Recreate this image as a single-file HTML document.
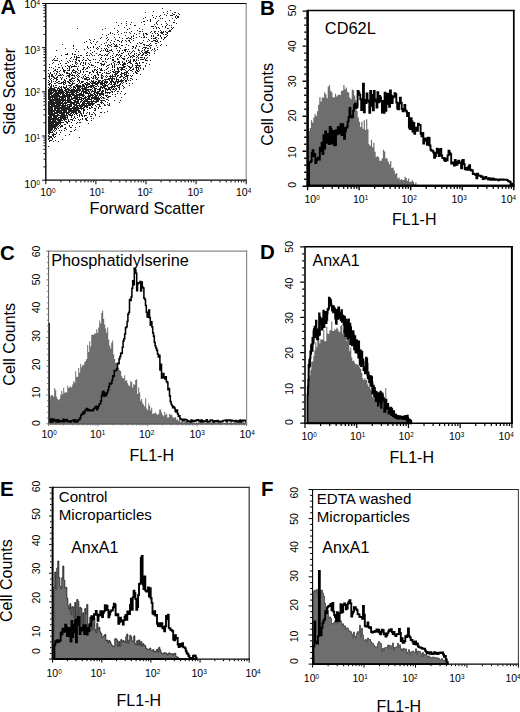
<!DOCTYPE html>
<html><head><meta charset="utf-8"><style>
html,body{margin:0;padding:0;background:#fff;width:520px;height:712px;overflow:hidden}
svg{display:block}
text{font-family:"Liberation Sans", sans-serif;fill:#000}
</style></head><body>
<svg width="520" height="712" viewBox="0 0 520 712">
<rect width="520" height="712" fill="#fff"/>
<path d="M48 70h1v1h-1zM48 73h1v1h-1zM48 76h1v1h-1zM48 80h1v1h-1zM48 82h1v1h-1zM48 84h1v1h-1zM48 87h1v1h-1zM48 89h1v1h-1zM48 90h1v1h-1zM48 91h1v1h-1zM48 92h1v1h-1zM48 93h1v1h-1zM48 94h1v1h-1zM48 95h1v1h-1zM48 96h1v1h-1zM48 97h1v1h-1zM48 98h1v1h-1zM48 99h1v1h-1zM48 101h1v1h-1zM48 102h1v1h-1zM48 103h1v1h-1zM48 104h1v1h-1zM48 105h1v1h-1zM48 106h1v1h-1zM48 107h1v1h-1zM48 108h1v1h-1zM48 109h1v1h-1zM48 110h1v1h-1zM48 111h1v1h-1zM48 112h1v1h-1zM48 113h1v1h-1zM48 114h1v1h-1zM48 116h1v1h-1zM48 117h1v1h-1zM48 118h1v1h-1zM48 119h1v1h-1zM48 120h1v1h-1zM48 121h1v1h-1zM48 122h1v1h-1zM48 123h1v1h-1zM48 124h1v1h-1zM48 125h1v1h-1zM48 126h1v1h-1zM48 127h1v1h-1zM48 128h1v1h-1zM48 129h1v1h-1zM48 130h1v1h-1zM48 131h1v1h-1zM48 132h1v1h-1zM48 133h1v1h-1zM48 135h1v1h-1zM48 136h1v1h-1zM48 138h1v1h-1zM48 139h1v1h-1zM48 146h1v1h-1zM49 64h1v1h-1zM49 67h1v1h-1zM49 74h1v1h-1zM49 75h1v1h-1zM49 76h1v1h-1zM49 77h1v1h-1zM49 78h1v1h-1zM49 81h1v1h-1zM49 83h1v1h-1zM49 84h1v1h-1zM49 85h1v1h-1zM49 88h1v1h-1zM49 89h1v1h-1zM49 90h1v1h-1zM49 91h1v1h-1zM49 92h1v1h-1zM49 93h1v1h-1zM49 94h1v1h-1zM49 95h1v1h-1zM49 96h1v1h-1zM49 97h1v1h-1zM49 98h1v1h-1zM49 99h1v1h-1zM49 100h1v1h-1zM49 101h1v1h-1zM49 102h1v1h-1zM49 103h1v1h-1zM49 104h1v1h-1zM49 105h1v1h-1zM49 106h1v1h-1zM49 107h1v1h-1zM49 108h1v1h-1zM49 109h1v1h-1zM49 110h1v1h-1zM49 111h1v1h-1zM49 112h1v1h-1zM49 113h1v1h-1zM49 114h1v1h-1zM49 115h1v1h-1zM49 116h1v1h-1zM49 117h1v1h-1zM49 118h1v1h-1zM49 119h1v1h-1zM49 120h1v1h-1zM49 121h1v1h-1zM49 122h1v1h-1zM49 123h1v1h-1zM49 124h1v1h-1zM49 125h1v1h-1zM49 126h1v1h-1zM49 127h1v1h-1zM49 128h1v1h-1zM49 129h1v1h-1zM49 130h1v1h-1zM49 131h1v1h-1zM49 132h1v1h-1zM49 133h1v1h-1zM49 134h1v1h-1zM49 136h1v1h-1zM49 137h1v1h-1zM49 138h1v1h-1zM49 140h1v1h-1zM49 141h1v1h-1zM50 72h1v1h-1zM50 73h1v1h-1zM50 79h1v1h-1zM50 83h1v1h-1zM50 86h1v1h-1zM50 87h1v1h-1zM50 88h1v1h-1zM50 89h1v1h-1zM50 90h1v1h-1zM50 91h1v1h-1zM50 92h1v1h-1zM50 93h1v1h-1zM50 94h1v1h-1zM50 96h1v1h-1zM50 97h1v1h-1zM50 98h1v1h-1zM50 99h1v1h-1zM50 100h1v1h-1zM50 101h1v1h-1zM50 102h1v1h-1zM50 103h1v1h-1zM50 104h1v1h-1zM50 106h1v1h-1zM50 107h1v1h-1zM50 108h1v1h-1zM50 109h1v1h-1zM50 110h1v1h-1zM50 111h1v1h-1zM50 112h1v1h-1zM50 113h1v1h-1zM50 114h1v1h-1zM50 115h1v1h-1zM50 116h1v1h-1zM50 117h1v1h-1zM50 118h1v1h-1zM50 119h1v1h-1zM50 120h1v1h-1zM50 121h1v1h-1zM50 122h1v1h-1zM50 123h1v1h-1zM50 124h1v1h-1zM50 125h1v1h-1zM50 126h1v1h-1zM50 127h1v1h-1zM50 128h1v1h-1zM50 129h1v1h-1zM50 130h1v1h-1zM50 131h1v1h-1zM50 132h1v1h-1zM50 136h1v1h-1zM50 137h1v1h-1zM50 140h1v1h-1zM51 67h1v1h-1zM51 74h1v1h-1zM51 75h1v1h-1zM51 76h1v1h-1zM51 78h1v1h-1zM51 80h1v1h-1zM51 81h1v1h-1zM51 82h1v1h-1zM51 84h1v1h-1zM51 85h1v1h-1zM51 86h1v1h-1zM51 87h1v1h-1zM51 88h1v1h-1zM51 89h1v1h-1zM51 90h1v1h-1zM51 91h1v1h-1zM51 92h1v1h-1zM51 93h1v1h-1zM51 94h1v1h-1zM51 95h1v1h-1zM51 96h1v1h-1zM51 97h1v1h-1zM51 99h1v1h-1zM51 100h1v1h-1zM51 101h1v1h-1zM51 102h1v1h-1zM51 103h1v1h-1zM51 104h1v1h-1zM51 105h1v1h-1zM51 106h1v1h-1zM51 107h1v1h-1zM51 108h1v1h-1zM51 109h1v1h-1zM51 110h1v1h-1zM51 111h1v1h-1zM51 112h1v1h-1zM51 113h1v1h-1zM51 114h1v1h-1zM51 115h1v1h-1zM51 116h1v1h-1zM51 117h1v1h-1zM51 118h1v1h-1zM51 119h1v1h-1zM51 121h1v1h-1zM51 122h1v1h-1zM51 123h1v1h-1zM51 124h1v1h-1zM51 125h1v1h-1zM51 126h1v1h-1zM51 127h1v1h-1zM51 128h1v1h-1zM51 129h1v1h-1zM51 130h1v1h-1zM51 132h1v1h-1zM51 136h1v1h-1zM51 137h1v1h-1zM51 140h1v1h-1zM52 60h1v1h-1zM52 63h1v1h-1zM52 74h1v1h-1zM52 75h1v1h-1zM52 76h1v1h-1zM52 88h1v1h-1zM52 89h1v1h-1zM52 90h1v1h-1zM52 92h1v1h-1zM52 93h1v1h-1zM52 95h1v1h-1zM52 96h1v1h-1zM52 97h1v1h-1zM52 98h1v1h-1zM52 99h1v1h-1zM52 100h1v1h-1zM52 101h1v1h-1zM52 102h1v1h-1zM52 103h1v1h-1zM52 104h1v1h-1zM52 105h1v1h-1zM52 106h1v1h-1zM52 107h1v1h-1zM52 108h1v1h-1zM52 109h1v1h-1zM52 110h1v1h-1zM52 111h1v1h-1zM52 112h1v1h-1zM52 113h1v1h-1zM52 114h1v1h-1zM52 115h1v1h-1zM52 118h1v1h-1zM52 119h1v1h-1zM52 120h1v1h-1zM52 121h1v1h-1zM52 122h1v1h-1zM52 123h1v1h-1zM52 124h1v1h-1zM52 125h1v1h-1zM52 126h1v1h-1zM52 127h1v1h-1zM52 128h1v1h-1zM52 129h1v1h-1zM52 131h1v1h-1zM52 132h1v1h-1zM52 134h1v1h-1zM52 135h1v1h-1zM52 138h1v1h-1zM52 139h1v1h-1zM53 59h1v1h-1zM53 62h1v1h-1zM53 68h1v1h-1zM53 71h1v1h-1zM53 76h1v1h-1zM53 77h1v1h-1zM53 79h1v1h-1zM53 81h1v1h-1zM53 85h1v1h-1zM53 86h1v1h-1zM53 88h1v1h-1zM53 89h1v1h-1zM53 90h1v1h-1zM53 91h1v1h-1zM53 92h1v1h-1zM53 94h1v1h-1zM53 95h1v1h-1zM53 96h1v1h-1zM53 97h1v1h-1zM53 99h1v1h-1zM53 100h1v1h-1zM53 101h1v1h-1zM53 102h1v1h-1zM53 103h1v1h-1zM53 104h1v1h-1zM53 105h1v1h-1zM53 106h1v1h-1zM53 110h1v1h-1zM53 111h1v1h-1zM53 113h1v1h-1zM53 114h1v1h-1zM53 115h1v1h-1zM53 116h1v1h-1zM53 117h1v1h-1zM53 118h1v1h-1zM53 119h1v1h-1zM53 120h1v1h-1zM53 121h1v1h-1zM53 122h1v1h-1zM53 123h1v1h-1zM53 124h1v1h-1zM53 125h1v1h-1zM53 126h1v1h-1zM53 127h1v1h-1zM53 130h1v1h-1zM53 133h1v1h-1zM53 134h1v1h-1zM53 135h1v1h-1zM53 136h1v1h-1zM53 141h1v1h-1zM54 58h1v1h-1zM54 60h1v1h-1zM54 70h1v1h-1zM54 73h1v1h-1zM54 77h1v1h-1zM54 78h1v1h-1zM54 83h1v1h-1zM54 87h1v1h-1zM54 88h1v1h-1zM54 89h1v1h-1zM54 90h1v1h-1zM54 91h1v1h-1zM54 93h1v1h-1zM54 94h1v1h-1zM54 95h1v1h-1zM54 96h1v1h-1zM54 97h1v1h-1zM54 98h1v1h-1zM54 99h1v1h-1zM54 100h1v1h-1zM54 102h1v1h-1zM54 103h1v1h-1zM54 104h1v1h-1zM54 105h1v1h-1zM54 106h1v1h-1zM54 107h1v1h-1zM54 108h1v1h-1zM54 109h1v1h-1zM54 110h1v1h-1zM54 111h1v1h-1zM54 112h1v1h-1zM54 113h1v1h-1zM54 114h1v1h-1zM54 115h1v1h-1zM54 116h1v1h-1zM54 117h1v1h-1zM54 118h1v1h-1zM54 119h1v1h-1zM54 120h1v1h-1zM54 121h1v1h-1zM54 122h1v1h-1zM54 124h1v1h-1zM54 125h1v1h-1zM54 126h1v1h-1zM54 127h1v1h-1zM54 128h1v1h-1zM54 129h1v1h-1zM54 131h1v1h-1zM54 134h1v1h-1zM54 137h1v1h-1zM55 56h1v1h-1zM55 60h1v1h-1zM55 66h1v1h-1zM55 69h1v1h-1zM55 70h1v1h-1zM55 75h1v1h-1zM55 78h1v1h-1zM55 81h1v1h-1zM55 83h1v1h-1zM55 85h1v1h-1zM55 87h1v1h-1zM55 89h1v1h-1zM55 90h1v1h-1zM55 91h1v1h-1zM55 92h1v1h-1zM55 93h1v1h-1zM55 94h1v1h-1zM55 95h1v1h-1zM55 96h1v1h-1zM55 97h1v1h-1zM55 98h1v1h-1zM55 99h1v1h-1zM55 100h1v1h-1zM55 101h1v1h-1zM55 102h1v1h-1zM55 103h1v1h-1zM55 105h1v1h-1zM55 106h1v1h-1zM55 107h1v1h-1zM55 108h1v1h-1zM55 109h1v1h-1zM55 110h1v1h-1zM55 112h1v1h-1zM55 113h1v1h-1zM55 115h1v1h-1zM55 116h1v1h-1zM55 117h1v1h-1zM55 118h1v1h-1zM55 119h1v1h-1zM55 120h1v1h-1zM55 121h1v1h-1zM55 122h1v1h-1zM55 123h1v1h-1zM55 124h1v1h-1zM55 125h1v1h-1zM55 126h1v1h-1zM55 127h1v1h-1zM55 128h1v1h-1zM55 130h1v1h-1zM55 134h1v1h-1zM55 136h1v1h-1zM55 140h1v1h-1zM56 50h1v1h-1zM56 60h1v1h-1zM56 71h1v1h-1zM56 73h1v1h-1zM56 74h1v1h-1zM56 77h1v1h-1zM56 78h1v1h-1zM56 79h1v1h-1zM56 80h1v1h-1zM56 82h1v1h-1zM56 85h1v1h-1zM56 87h1v1h-1zM56 90h1v1h-1zM56 91h1v1h-1zM56 92h1v1h-1zM56 93h1v1h-1zM56 94h1v1h-1zM56 95h1v1h-1zM56 96h1v1h-1zM56 97h1v1h-1zM56 98h1v1h-1zM56 99h1v1h-1zM56 100h1v1h-1zM56 101h1v1h-1zM56 102h1v1h-1zM56 103h1v1h-1zM56 104h1v1h-1zM56 105h1v1h-1zM56 106h1v1h-1zM56 107h1v1h-1zM56 108h1v1h-1zM56 110h1v1h-1zM56 111h1v1h-1zM56 112h1v1h-1zM56 113h1v1h-1zM56 115h1v1h-1zM56 116h1v1h-1zM56 117h1v1h-1zM56 118h1v1h-1zM56 119h1v1h-1zM56 121h1v1h-1zM56 122h1v1h-1zM56 123h1v1h-1zM56 124h1v1h-1zM56 125h1v1h-1zM56 126h1v1h-1zM56 128h1v1h-1zM56 129h1v1h-1zM56 132h1v1h-1zM56 133h1v1h-1zM57 58h1v1h-1zM57 60h1v1h-1zM57 69h1v1h-1zM57 71h1v1h-1zM57 72h1v1h-1zM57 76h1v1h-1zM57 77h1v1h-1zM57 79h1v1h-1zM57 82h1v1h-1zM57 88h1v1h-1zM57 89h1v1h-1zM57 90h1v1h-1zM57 92h1v1h-1zM57 93h1v1h-1zM57 94h1v1h-1zM57 95h1v1h-1zM57 96h1v1h-1zM57 97h1v1h-1zM57 98h1v1h-1zM57 99h1v1h-1zM57 100h1v1h-1zM57 101h1v1h-1zM57 102h1v1h-1zM57 103h1v1h-1zM57 104h1v1h-1zM57 105h1v1h-1zM57 106h1v1h-1zM57 107h1v1h-1zM57 108h1v1h-1zM57 109h1v1h-1zM57 110h1v1h-1zM57 111h1v1h-1zM57 112h1v1h-1zM57 113h1v1h-1zM57 114h1v1h-1zM57 115h1v1h-1zM57 116h1v1h-1zM57 118h1v1h-1zM57 119h1v1h-1zM57 120h1v1h-1zM57 122h1v1h-1zM57 123h1v1h-1zM57 124h1v1h-1zM57 125h1v1h-1zM57 127h1v1h-1zM58 64h1v1h-1zM58 67h1v1h-1zM58 75h1v1h-1zM58 81h1v1h-1zM58 83h1v1h-1zM58 87h1v1h-1zM58 88h1v1h-1zM58 90h1v1h-1zM58 91h1v1h-1zM58 92h1v1h-1zM58 93h1v1h-1zM58 94h1v1h-1zM58 95h1v1h-1zM58 96h1v1h-1zM58 98h1v1h-1zM58 99h1v1h-1zM58 100h1v1h-1zM58 101h1v1h-1zM58 102h1v1h-1zM58 103h1v1h-1zM58 104h1v1h-1zM58 105h1v1h-1zM58 106h1v1h-1zM58 107h1v1h-1zM58 108h1v1h-1zM58 109h1v1h-1zM58 110h1v1h-1zM58 111h1v1h-1zM58 112h1v1h-1zM58 114h1v1h-1zM58 115h1v1h-1zM58 117h1v1h-1zM58 118h1v1h-1zM58 119h1v1h-1zM58 120h1v1h-1zM58 121h1v1h-1zM58 122h1v1h-1zM58 123h1v1h-1zM58 124h1v1h-1zM58 126h1v1h-1zM58 128h1v1h-1zM58 141h1v1h-1zM59 61h1v1h-1zM59 67h1v1h-1zM59 71h1v1h-1zM59 73h1v1h-1zM59 75h1v1h-1zM59 81h1v1h-1zM59 83h1v1h-1zM59 86h1v1h-1zM59 88h1v1h-1zM59 89h1v1h-1zM59 90h1v1h-1zM59 91h1v1h-1zM59 92h1v1h-1zM59 93h1v1h-1zM59 95h1v1h-1zM59 96h1v1h-1zM59 97h1v1h-1zM59 98h1v1h-1zM59 99h1v1h-1zM59 100h1v1h-1zM59 101h1v1h-1zM59 102h1v1h-1zM59 103h1v1h-1zM59 104h1v1h-1zM59 105h1v1h-1zM59 106h1v1h-1zM59 107h1v1h-1zM59 108h1v1h-1zM59 109h1v1h-1zM59 110h1v1h-1zM59 111h1v1h-1zM59 112h1v1h-1zM59 113h1v1h-1zM59 115h1v1h-1zM59 117h1v1h-1zM59 119h1v1h-1zM59 120h1v1h-1zM59 121h1v1h-1zM59 122h1v1h-1zM59 123h1v1h-1zM59 125h1v1h-1zM59 130h1v1h-1zM59 134h1v1h-1zM60 63h1v1h-1zM60 70h1v1h-1zM60 74h1v1h-1zM60 75h1v1h-1zM60 77h1v1h-1zM60 83h1v1h-1zM60 87h1v1h-1zM60 89h1v1h-1zM60 90h1v1h-1zM60 91h1v1h-1zM60 92h1v1h-1zM60 93h1v1h-1zM60 94h1v1h-1zM60 96h1v1h-1zM60 97h1v1h-1zM60 99h1v1h-1zM60 100h1v1h-1zM60 101h1v1h-1zM60 102h1v1h-1zM60 103h1v1h-1zM60 104h1v1h-1zM60 105h1v1h-1zM60 107h1v1h-1zM60 108h1v1h-1zM60 110h1v1h-1zM60 111h1v1h-1zM60 112h1v1h-1zM60 113h1v1h-1zM60 115h1v1h-1zM60 116h1v1h-1zM60 117h1v1h-1zM60 118h1v1h-1zM60 119h1v1h-1zM60 120h1v1h-1zM60 121h1v1h-1zM60 122h1v1h-1zM60 123h1v1h-1zM60 124h1v1h-1zM60 126h1v1h-1zM60 127h1v1h-1zM60 132h1v1h-1zM61 55h1v1h-1zM61 60h1v1h-1zM61 65h1v1h-1zM61 75h1v1h-1zM61 78h1v1h-1zM61 79h1v1h-1zM61 82h1v1h-1zM61 83h1v1h-1zM61 86h1v1h-1zM61 87h1v1h-1zM61 88h1v1h-1zM61 89h1v1h-1zM61 90h1v1h-1zM61 91h1v1h-1zM61 92h1v1h-1zM61 93h1v1h-1zM61 96h1v1h-1zM61 97h1v1h-1zM61 98h1v1h-1zM61 99h1v1h-1zM61 100h1v1h-1zM61 102h1v1h-1zM61 103h1v1h-1zM61 105h1v1h-1zM61 106h1v1h-1zM61 107h1v1h-1zM61 108h1v1h-1zM61 109h1v1h-1zM61 110h1v1h-1zM61 111h1v1h-1zM61 112h1v1h-1zM61 113h1v1h-1zM61 114h1v1h-1zM61 115h1v1h-1zM61 116h1v1h-1zM61 117h1v1h-1zM61 118h1v1h-1zM61 119h1v1h-1zM61 120h1v1h-1zM61 122h1v1h-1zM61 125h1v1h-1zM61 126h1v1h-1zM61 130h1v1h-1zM62 44h1v1h-1zM62 67h1v1h-1zM62 68h1v1h-1zM62 74h1v1h-1zM62 77h1v1h-1zM62 82h1v1h-1zM62 89h1v1h-1zM62 90h1v1h-1zM62 91h1v1h-1zM62 92h1v1h-1zM62 93h1v1h-1zM62 94h1v1h-1zM62 95h1v1h-1zM62 96h1v1h-1zM62 97h1v1h-1zM62 98h1v1h-1zM62 99h1v1h-1zM62 100h1v1h-1zM62 101h1v1h-1zM62 102h1v1h-1zM62 103h1v1h-1zM62 104h1v1h-1zM62 105h1v1h-1zM62 106h1v1h-1zM62 107h1v1h-1zM62 108h1v1h-1zM62 109h1v1h-1zM62 110h1v1h-1zM62 112h1v1h-1zM62 113h1v1h-1zM62 114h1v1h-1zM62 115h1v1h-1zM62 116h1v1h-1zM62 117h1v1h-1zM62 118h1v1h-1zM62 120h1v1h-1zM62 122h1v1h-1zM62 125h1v1h-1zM62 126h1v1h-1zM62 139h1v1h-1zM63 69h1v1h-1zM63 70h1v1h-1zM63 71h1v1h-1zM63 75h1v1h-1zM63 81h1v1h-1zM63 82h1v1h-1zM63 83h1v1h-1zM63 84h1v1h-1zM63 86h1v1h-1zM63 87h1v1h-1zM63 91h1v1h-1zM63 92h1v1h-1zM63 93h1v1h-1zM63 94h1v1h-1zM63 95h1v1h-1zM63 96h1v1h-1zM63 97h1v1h-1zM63 98h1v1h-1zM63 99h1v1h-1zM63 100h1v1h-1zM63 101h1v1h-1zM63 103h1v1h-1zM63 104h1v1h-1zM63 105h1v1h-1zM63 106h1v1h-1zM63 107h1v1h-1zM63 108h1v1h-1zM63 109h1v1h-1zM63 110h1v1h-1zM63 111h1v1h-1zM63 112h1v1h-1zM63 113h1v1h-1zM63 114h1v1h-1zM63 115h1v1h-1zM63 116h1v1h-1zM63 117h1v1h-1zM63 118h1v1h-1zM63 119h1v1h-1zM63 122h1v1h-1zM64 70h1v1h-1zM64 71h1v1h-1zM64 72h1v1h-1zM64 79h1v1h-1zM64 80h1v1h-1zM64 82h1v1h-1zM64 84h1v1h-1zM64 87h1v1h-1zM64 88h1v1h-1zM64 90h1v1h-1zM64 92h1v1h-1zM64 94h1v1h-1zM64 95h1v1h-1zM64 96h1v1h-1zM64 97h1v1h-1zM64 99h1v1h-1zM64 100h1v1h-1zM64 102h1v1h-1zM64 103h1v1h-1zM64 105h1v1h-1zM64 106h1v1h-1zM64 107h1v1h-1zM64 108h1v1h-1zM64 109h1v1h-1zM64 110h1v1h-1zM64 111h1v1h-1zM64 112h1v1h-1zM64 113h1v1h-1zM64 114h1v1h-1zM64 115h1v1h-1zM64 116h1v1h-1zM64 117h1v1h-1zM64 118h1v1h-1zM64 119h1v1h-1zM64 120h1v1h-1zM64 124h1v1h-1zM64 128h1v1h-1zM64 130h1v1h-1zM65 48h1v1h-1zM65 54h1v1h-1zM65 63h1v1h-1zM65 66h1v1h-1zM65 70h1v1h-1zM65 80h1v1h-1zM65 81h1v1h-1zM65 82h1v1h-1zM65 83h1v1h-1zM65 87h1v1h-1zM65 88h1v1h-1zM65 89h1v1h-1zM65 90h1v1h-1zM65 91h1v1h-1zM65 93h1v1h-1zM65 95h1v1h-1zM65 96h1v1h-1zM65 97h1v1h-1zM65 98h1v1h-1zM65 99h1v1h-1zM65 100h1v1h-1zM65 101h1v1h-1zM65 102h1v1h-1zM65 103h1v1h-1zM65 104h1v1h-1zM65 105h1v1h-1zM65 106h1v1h-1zM65 107h1v1h-1zM65 108h1v1h-1zM65 109h1v1h-1zM65 110h1v1h-1zM65 111h1v1h-1zM65 112h1v1h-1zM65 115h1v1h-1zM65 116h1v1h-1zM65 117h1v1h-1zM65 118h1v1h-1zM65 119h1v1h-1zM65 121h1v1h-1zM65 124h1v1h-1zM65 127h1v1h-1zM65 128h1v1h-1zM65 135h1v1h-1zM66 54h1v1h-1zM66 58h1v1h-1zM66 63h1v1h-1zM66 72h1v1h-1zM66 73h1v1h-1zM66 76h1v1h-1zM66 78h1v1h-1zM66 85h1v1h-1zM66 86h1v1h-1zM66 87h1v1h-1zM66 89h1v1h-1zM66 90h1v1h-1zM66 91h1v1h-1zM66 92h1v1h-1zM66 93h1v1h-1zM66 94h1v1h-1zM66 95h1v1h-1zM66 96h1v1h-1zM66 100h1v1h-1zM66 102h1v1h-1zM66 103h1v1h-1zM66 105h1v1h-1zM66 107h1v1h-1zM66 108h1v1h-1zM66 109h1v1h-1zM66 110h1v1h-1zM66 111h1v1h-1zM66 112h1v1h-1zM66 113h1v1h-1zM66 114h1v1h-1zM66 115h1v1h-1zM66 117h1v1h-1zM66 119h1v1h-1zM66 121h1v1h-1zM66 122h1v1h-1zM66 129h1v1h-1zM67 53h1v1h-1zM67 54h1v1h-1zM67 61h1v1h-1zM67 65h1v1h-1zM67 68h1v1h-1zM67 70h1v1h-1zM67 72h1v1h-1zM67 73h1v1h-1zM67 75h1v1h-1zM67 81h1v1h-1zM67 88h1v1h-1zM67 89h1v1h-1zM67 91h1v1h-1zM67 92h1v1h-1zM67 93h1v1h-1zM67 94h1v1h-1zM67 95h1v1h-1zM67 96h1v1h-1zM67 97h1v1h-1zM67 98h1v1h-1zM67 99h1v1h-1zM67 100h1v1h-1zM67 101h1v1h-1zM67 102h1v1h-1zM67 104h1v1h-1zM67 105h1v1h-1zM67 106h1v1h-1zM67 107h1v1h-1zM67 108h1v1h-1zM67 109h1v1h-1zM67 112h1v1h-1zM67 113h1v1h-1zM67 115h1v1h-1zM67 116h1v1h-1zM67 117h1v1h-1zM67 118h1v1h-1zM67 122h1v1h-1zM67 123h1v1h-1zM68 62h1v1h-1zM68 66h1v1h-1zM68 70h1v1h-1zM68 73h1v1h-1zM68 75h1v1h-1zM68 76h1v1h-1zM68 81h1v1h-1zM68 82h1v1h-1zM68 85h1v1h-1zM68 88h1v1h-1zM68 89h1v1h-1zM68 90h1v1h-1zM68 91h1v1h-1zM68 92h1v1h-1zM68 94h1v1h-1zM68 95h1v1h-1zM68 96h1v1h-1zM68 97h1v1h-1zM68 98h1v1h-1zM68 99h1v1h-1zM68 100h1v1h-1zM68 101h1v1h-1zM68 102h1v1h-1zM68 104h1v1h-1zM68 106h1v1h-1zM68 107h1v1h-1zM68 108h1v1h-1zM68 109h1v1h-1zM68 110h1v1h-1zM68 111h1v1h-1zM68 112h1v1h-1zM68 113h1v1h-1zM68 114h1v1h-1zM68 119h1v1h-1zM68 120h1v1h-1zM68 121h1v1h-1zM69 60h1v1h-1zM69 66h1v1h-1zM69 67h1v1h-1zM69 68h1v1h-1zM69 69h1v1h-1zM69 70h1v1h-1zM69 73h1v1h-1zM69 74h1v1h-1zM69 75h1v1h-1zM69 76h1v1h-1zM69 77h1v1h-1zM69 79h1v1h-1zM69 80h1v1h-1zM69 82h1v1h-1zM69 83h1v1h-1zM69 85h1v1h-1zM69 87h1v1h-1zM69 89h1v1h-1zM69 90h1v1h-1zM69 92h1v1h-1zM69 93h1v1h-1zM69 94h1v1h-1zM69 95h1v1h-1zM69 96h1v1h-1zM69 97h1v1h-1zM69 98h1v1h-1zM69 99h1v1h-1zM69 100h1v1h-1zM69 101h1v1h-1zM69 102h1v1h-1zM69 104h1v1h-1zM69 105h1v1h-1zM69 106h1v1h-1zM69 107h1v1h-1zM69 108h1v1h-1zM69 109h1v1h-1zM69 110h1v1h-1zM69 111h1v1h-1zM69 112h1v1h-1zM69 114h1v1h-1zM69 115h1v1h-1zM69 121h1v1h-1zM69 125h1v1h-1zM69 126h1v1h-1zM69 134h1v1h-1zM70 58h1v1h-1zM70 61h1v1h-1zM70 65h1v1h-1zM70 74h1v1h-1zM70 79h1v1h-1zM70 80h1v1h-1zM70 81h1v1h-1zM70 83h1v1h-1zM70 85h1v1h-1zM70 86h1v1h-1zM70 88h1v1h-1zM70 90h1v1h-1zM70 91h1v1h-1zM70 92h1v1h-1zM70 94h1v1h-1zM70 95h1v1h-1zM70 96h1v1h-1zM70 99h1v1h-1zM70 100h1v1h-1zM70 101h1v1h-1zM70 102h1v1h-1zM70 103h1v1h-1zM70 104h1v1h-1zM70 105h1v1h-1zM70 106h1v1h-1zM70 108h1v1h-1zM70 109h1v1h-1zM70 110h1v1h-1zM70 111h1v1h-1zM70 113h1v1h-1zM70 114h1v1h-1zM70 115h1v1h-1zM70 119h1v1h-1zM70 127h1v1h-1zM70 131h1v1h-1zM71 57h1v1h-1zM71 66h1v1h-1zM71 67h1v1h-1zM71 72h1v1h-1zM71 73h1v1h-1zM71 75h1v1h-1zM71 78h1v1h-1zM71 79h1v1h-1zM71 81h1v1h-1zM71 84h1v1h-1zM71 85h1v1h-1zM71 87h1v1h-1zM71 89h1v1h-1zM71 90h1v1h-1zM71 91h1v1h-1zM71 92h1v1h-1zM71 93h1v1h-1zM71 94h1v1h-1zM71 96h1v1h-1zM71 97h1v1h-1zM71 98h1v1h-1zM71 99h1v1h-1zM71 101h1v1h-1zM71 102h1v1h-1zM71 103h1v1h-1zM71 104h1v1h-1zM71 105h1v1h-1zM71 106h1v1h-1zM71 108h1v1h-1zM71 109h1v1h-1zM71 110h1v1h-1zM71 111h1v1h-1zM71 112h1v1h-1zM71 113h1v1h-1zM71 115h1v1h-1zM71 116h1v1h-1zM71 117h1v1h-1zM71 119h1v1h-1zM71 122h1v1h-1zM71 127h1v1h-1zM71 131h1v1h-1zM72 53h1v1h-1zM72 54h1v1h-1zM72 61h1v1h-1zM72 64h1v1h-1zM72 66h1v1h-1zM72 70h1v1h-1zM72 71h1v1h-1zM72 74h1v1h-1zM72 75h1v1h-1zM72 77h1v1h-1zM72 78h1v1h-1zM72 80h1v1h-1zM72 82h1v1h-1zM72 83h1v1h-1zM72 84h1v1h-1zM72 89h1v1h-1zM72 90h1v1h-1zM72 91h1v1h-1zM72 92h1v1h-1zM72 93h1v1h-1zM72 94h1v1h-1zM72 95h1v1h-1zM72 98h1v1h-1zM72 99h1v1h-1zM72 102h1v1h-1zM72 103h1v1h-1zM72 107h1v1h-1zM72 108h1v1h-1zM72 110h1v1h-1zM72 111h1v1h-1zM72 112h1v1h-1zM72 114h1v1h-1zM72 115h1v1h-1zM72 119h1v1h-1zM72 120h1v1h-1zM72 125h1v1h-1zM73 45h1v1h-1zM73 46h1v1h-1zM73 48h1v1h-1zM73 59h1v1h-1zM73 66h1v1h-1zM73 69h1v1h-1zM73 70h1v1h-1zM73 72h1v1h-1zM73 75h1v1h-1zM73 78h1v1h-1zM73 81h1v1h-1zM73 83h1v1h-1zM73 86h1v1h-1zM73 87h1v1h-1zM73 88h1v1h-1zM73 89h1v1h-1zM73 90h1v1h-1zM73 91h1v1h-1zM73 92h1v1h-1zM73 93h1v1h-1zM73 94h1v1h-1zM73 95h1v1h-1zM73 97h1v1h-1zM73 98h1v1h-1zM73 100h1v1h-1zM73 102h1v1h-1zM73 103h1v1h-1zM73 104h1v1h-1zM73 106h1v1h-1zM73 107h1v1h-1zM73 108h1v1h-1zM73 109h1v1h-1zM73 110h1v1h-1zM73 111h1v1h-1zM73 112h1v1h-1zM73 113h1v1h-1zM73 118h1v1h-1zM74 54h1v1h-1zM74 56h1v1h-1zM74 57h1v1h-1zM74 65h1v1h-1zM74 66h1v1h-1zM74 70h1v1h-1zM74 72h1v1h-1zM74 75h1v1h-1zM74 76h1v1h-1zM74 78h1v1h-1zM74 80h1v1h-1zM74 83h1v1h-1zM74 86h1v1h-1zM74 87h1v1h-1zM74 89h1v1h-1zM74 90h1v1h-1zM74 91h1v1h-1zM74 92h1v1h-1zM74 94h1v1h-1zM74 95h1v1h-1zM74 96h1v1h-1zM74 97h1v1h-1zM74 98h1v1h-1zM74 100h1v1h-1zM74 101h1v1h-1zM74 102h1v1h-1zM74 103h1v1h-1zM74 104h1v1h-1zM74 105h1v1h-1zM74 106h1v1h-1zM74 107h1v1h-1zM74 108h1v1h-1zM74 109h1v1h-1zM74 110h1v1h-1zM74 111h1v1h-1zM74 112h1v1h-1zM74 114h1v1h-1zM74 116h1v1h-1zM74 117h1v1h-1zM74 120h1v1h-1zM74 130h1v1h-1zM75 51h1v1h-1zM75 54h1v1h-1zM75 59h1v1h-1zM75 61h1v1h-1zM75 62h1v1h-1zM75 63h1v1h-1zM75 66h1v1h-1zM75 71h1v1h-1zM75 72h1v1h-1zM75 73h1v1h-1zM75 77h1v1h-1zM75 85h1v1h-1zM75 87h1v1h-1zM75 88h1v1h-1zM75 90h1v1h-1zM75 91h1v1h-1zM75 93h1v1h-1zM75 95h1v1h-1zM75 96h1v1h-1zM75 97h1v1h-1zM75 98h1v1h-1zM75 99h1v1h-1zM75 100h1v1h-1zM75 101h1v1h-1zM75 102h1v1h-1zM75 104h1v1h-1zM75 105h1v1h-1zM75 107h1v1h-1zM75 108h1v1h-1zM75 109h1v1h-1zM75 110h1v1h-1zM75 111h1v1h-1zM75 112h1v1h-1zM75 113h1v1h-1zM75 118h1v1h-1zM75 127h1v1h-1zM75 129h1v1h-1zM76 49h1v1h-1zM76 56h1v1h-1zM76 57h1v1h-1zM76 58h1v1h-1zM76 59h1v1h-1zM76 60h1v1h-1zM76 62h1v1h-1zM76 64h1v1h-1zM76 66h1v1h-1zM76 71h1v1h-1zM76 75h1v1h-1zM76 84h1v1h-1zM76 85h1v1h-1zM76 86h1v1h-1zM76 89h1v1h-1zM76 90h1v1h-1zM76 91h1v1h-1zM76 92h1v1h-1zM76 93h1v1h-1zM76 94h1v1h-1zM76 95h1v1h-1zM76 96h1v1h-1zM76 97h1v1h-1zM76 98h1v1h-1zM76 99h1v1h-1zM76 101h1v1h-1zM76 102h1v1h-1zM76 103h1v1h-1zM76 104h1v1h-1zM76 105h1v1h-1zM76 106h1v1h-1zM76 107h1v1h-1zM76 108h1v1h-1zM76 109h1v1h-1zM76 110h1v1h-1zM76 111h1v1h-1zM76 112h1v1h-1zM76 113h1v1h-1zM76 114h1v1h-1zM76 123h1v1h-1zM77 28h1v1h-1zM77 57h1v1h-1zM77 63h1v1h-1zM77 68h1v1h-1zM77 69h1v1h-1zM77 72h1v1h-1zM77 74h1v1h-1zM77 76h1v1h-1zM77 78h1v1h-1zM77 79h1v1h-1zM77 81h1v1h-1zM77 84h1v1h-1zM77 85h1v1h-1zM77 86h1v1h-1zM77 87h1v1h-1zM77 88h1v1h-1zM77 89h1v1h-1zM77 90h1v1h-1zM77 91h1v1h-1zM77 92h1v1h-1zM77 94h1v1h-1zM77 95h1v1h-1zM77 96h1v1h-1zM77 97h1v1h-1zM77 98h1v1h-1zM77 99h1v1h-1zM77 100h1v1h-1zM77 101h1v1h-1zM77 102h1v1h-1zM77 103h1v1h-1zM77 105h1v1h-1zM77 106h1v1h-1zM77 107h1v1h-1zM77 108h1v1h-1zM77 109h1v1h-1zM77 110h1v1h-1zM77 113h1v1h-1zM77 115h1v1h-1zM77 117h1v1h-1zM77 122h1v1h-1zM78 51h1v1h-1zM78 55h1v1h-1zM78 57h1v1h-1zM78 60h1v1h-1zM78 66h1v1h-1zM78 70h1v1h-1zM78 73h1v1h-1zM78 75h1v1h-1zM78 77h1v1h-1zM78 79h1v1h-1zM78 80h1v1h-1zM78 83h1v1h-1zM78 85h1v1h-1zM78 86h1v1h-1zM78 87h1v1h-1zM78 88h1v1h-1zM78 89h1v1h-1zM78 90h1v1h-1zM78 92h1v1h-1zM78 94h1v1h-1zM78 95h1v1h-1zM78 97h1v1h-1zM78 99h1v1h-1zM78 100h1v1h-1zM78 101h1v1h-1zM78 102h1v1h-1zM78 103h1v1h-1zM78 105h1v1h-1zM78 107h1v1h-1zM78 108h1v1h-1zM78 109h1v1h-1zM78 110h1v1h-1zM78 111h1v1h-1zM78 112h1v1h-1zM78 119h1v1h-1zM79 57h1v1h-1zM79 60h1v1h-1zM79 61h1v1h-1zM79 73h1v1h-1zM79 76h1v1h-1zM79 80h1v1h-1zM79 81h1v1h-1zM79 82h1v1h-1zM79 85h1v1h-1zM79 86h1v1h-1zM79 87h1v1h-1zM79 88h1v1h-1zM79 89h1v1h-1zM79 90h1v1h-1zM79 91h1v1h-1zM79 93h1v1h-1zM79 94h1v1h-1zM79 95h1v1h-1zM79 96h1v1h-1zM79 97h1v1h-1zM79 98h1v1h-1zM79 99h1v1h-1zM79 103h1v1h-1zM79 104h1v1h-1zM79 105h1v1h-1zM79 106h1v1h-1zM79 108h1v1h-1zM79 110h1v1h-1zM79 111h1v1h-1zM79 112h1v1h-1zM79 114h1v1h-1zM79 115h1v1h-1zM79 116h1v1h-1zM79 120h1v1h-1zM79 122h1v1h-1zM79 126h1v1h-1zM79 137h1v1h-1zM80 55h1v1h-1zM80 63h1v1h-1zM80 64h1v1h-1zM80 70h1v1h-1zM80 71h1v1h-1zM80 72h1v1h-1zM80 83h1v1h-1zM80 85h1v1h-1zM80 86h1v1h-1zM80 87h1v1h-1zM80 89h1v1h-1zM80 90h1v1h-1zM80 93h1v1h-1zM80 94h1v1h-1zM80 95h1v1h-1zM80 97h1v1h-1zM80 99h1v1h-1zM80 101h1v1h-1zM80 102h1v1h-1zM80 105h1v1h-1zM80 106h1v1h-1zM80 107h1v1h-1zM80 108h1v1h-1zM80 111h1v1h-1zM80 112h1v1h-1zM80 113h1v1h-1zM80 119h1v1h-1zM80 122h1v1h-1zM81 55h1v1h-1zM81 62h1v1h-1zM81 77h1v1h-1zM81 81h1v1h-1zM81 82h1v1h-1zM81 86h1v1h-1zM81 88h1v1h-1zM81 91h1v1h-1zM81 92h1v1h-1zM81 93h1v1h-1zM81 94h1v1h-1zM81 95h1v1h-1zM81 97h1v1h-1zM81 98h1v1h-1zM81 99h1v1h-1zM81 100h1v1h-1zM81 101h1v1h-1zM81 104h1v1h-1zM81 105h1v1h-1zM81 106h1v1h-1zM81 107h1v1h-1zM81 108h1v1h-1zM81 109h1v1h-1zM81 113h1v1h-1zM81 114h1v1h-1zM81 115h1v1h-1zM82 60h1v1h-1zM82 65h1v1h-1zM82 69h1v1h-1zM82 74h1v1h-1zM82 78h1v1h-1zM82 81h1v1h-1zM82 82h1v1h-1zM82 84h1v1h-1zM82 85h1v1h-1zM82 86h1v1h-1zM82 87h1v1h-1zM82 88h1v1h-1zM82 89h1v1h-1zM82 90h1v1h-1zM82 91h1v1h-1zM82 94h1v1h-1zM82 95h1v1h-1zM82 96h1v1h-1zM82 98h1v1h-1zM82 100h1v1h-1zM82 102h1v1h-1zM82 103h1v1h-1zM82 104h1v1h-1zM82 105h1v1h-1zM82 106h1v1h-1zM82 108h1v1h-1zM82 115h1v1h-1zM82 116h1v1h-1zM82 118h1v1h-1zM82 119h1v1h-1zM83 57h1v1h-1zM83 59h1v1h-1zM83 62h1v1h-1zM83 63h1v1h-1zM83 65h1v1h-1zM83 67h1v1h-1zM83 68h1v1h-1zM83 69h1v1h-1zM83 71h1v1h-1zM83 72h1v1h-1zM83 76h1v1h-1zM83 77h1v1h-1zM83 81h1v1h-1zM83 84h1v1h-1zM83 85h1v1h-1zM83 86h1v1h-1zM83 88h1v1h-1zM83 89h1v1h-1zM83 90h1v1h-1zM83 91h1v1h-1zM83 92h1v1h-1zM83 93h1v1h-1zM83 94h1v1h-1zM83 95h1v1h-1zM83 96h1v1h-1zM83 98h1v1h-1zM83 99h1v1h-1zM83 101h1v1h-1zM83 102h1v1h-1zM83 103h1v1h-1zM83 104h1v1h-1zM83 105h1v1h-1zM83 107h1v1h-1zM83 108h1v1h-1zM83 109h1v1h-1zM83 110h1v1h-1zM83 111h1v1h-1zM83 112h1v1h-1zM83 113h1v1h-1zM84 42h1v1h-1zM84 49h1v1h-1zM84 67h1v1h-1zM84 75h1v1h-1zM84 78h1v1h-1zM84 79h1v1h-1zM84 83h1v1h-1zM84 85h1v1h-1zM84 86h1v1h-1zM84 87h1v1h-1zM84 88h1v1h-1zM84 89h1v1h-1zM84 91h1v1h-1zM84 92h1v1h-1zM84 95h1v1h-1zM84 97h1v1h-1zM84 98h1v1h-1zM84 100h1v1h-1zM84 101h1v1h-1zM84 102h1v1h-1zM84 103h1v1h-1zM84 104h1v1h-1zM84 105h1v1h-1zM84 106h1v1h-1zM84 107h1v1h-1zM84 109h1v1h-1zM84 110h1v1h-1zM84 115h1v1h-1zM84 116h1v1h-1zM85 60h1v1h-1zM85 62h1v1h-1zM85 63h1v1h-1zM85 64h1v1h-1zM85 69h1v1h-1zM85 74h1v1h-1zM85 76h1v1h-1zM85 78h1v1h-1zM85 79h1v1h-1zM85 83h1v1h-1zM85 84h1v1h-1zM85 87h1v1h-1zM85 88h1v1h-1zM85 89h1v1h-1zM85 90h1v1h-1zM85 91h1v1h-1zM85 92h1v1h-1zM85 93h1v1h-1zM85 96h1v1h-1zM85 97h1v1h-1zM85 98h1v1h-1zM85 99h1v1h-1zM85 100h1v1h-1zM85 101h1v1h-1zM85 103h1v1h-1zM85 105h1v1h-1zM85 106h1v1h-1zM85 115h1v1h-1zM85 118h1v1h-1zM85 119h1v1h-1zM86 41h1v1h-1zM86 53h1v1h-1zM86 55h1v1h-1zM86 60h1v1h-1zM86 68h1v1h-1zM86 71h1v1h-1zM86 77h1v1h-1zM86 78h1v1h-1zM86 79h1v1h-1zM86 82h1v1h-1zM86 84h1v1h-1zM86 85h1v1h-1zM86 86h1v1h-1zM86 87h1v1h-1zM86 88h1v1h-1zM86 89h1v1h-1zM86 90h1v1h-1zM86 91h1v1h-1zM86 92h1v1h-1zM86 93h1v1h-1zM86 97h1v1h-1zM86 99h1v1h-1zM86 100h1v1h-1zM86 101h1v1h-1zM86 103h1v1h-1zM86 104h1v1h-1zM86 105h1v1h-1zM86 106h1v1h-1zM86 107h1v1h-1zM86 113h1v1h-1zM86 115h1v1h-1zM86 118h1v1h-1zM86 119h1v1h-1zM86 120h1v1h-1zM87 46h1v1h-1zM87 47h1v1h-1zM87 52h1v1h-1zM87 55h1v1h-1zM87 58h1v1h-1zM87 67h1v1h-1zM87 68h1v1h-1zM87 71h1v1h-1zM87 77h1v1h-1zM87 79h1v1h-1zM87 80h1v1h-1zM87 82h1v1h-1zM87 83h1v1h-1zM87 84h1v1h-1zM87 85h1v1h-1zM87 87h1v1h-1zM87 89h1v1h-1zM87 90h1v1h-1zM87 92h1v1h-1zM87 93h1v1h-1zM87 96h1v1h-1zM87 98h1v1h-1zM87 99h1v1h-1zM87 100h1v1h-1zM87 101h1v1h-1zM87 102h1v1h-1zM87 103h1v1h-1zM87 105h1v1h-1zM87 106h1v1h-1zM87 107h1v1h-1zM87 109h1v1h-1zM87 112h1v1h-1zM87 117h1v1h-1zM87 120h1v1h-1zM88 48h1v1h-1zM88 59h1v1h-1zM88 63h1v1h-1zM88 66h1v1h-1zM88 75h1v1h-1zM88 77h1v1h-1zM88 79h1v1h-1zM88 83h1v1h-1zM88 84h1v1h-1zM88 86h1v1h-1zM88 87h1v1h-1zM88 89h1v1h-1zM88 90h1v1h-1zM88 91h1v1h-1zM88 93h1v1h-1zM88 94h1v1h-1zM88 95h1v1h-1zM88 96h1v1h-1zM88 97h1v1h-1zM88 98h1v1h-1zM88 99h1v1h-1zM88 101h1v1h-1zM88 102h1v1h-1zM88 103h1v1h-1zM88 104h1v1h-1zM88 105h1v1h-1zM88 123h1v1h-1zM89 39h1v1h-1zM89 55h1v1h-1zM89 60h1v1h-1zM89 64h1v1h-1zM89 67h1v1h-1zM89 72h1v1h-1zM89 73h1v1h-1zM89 78h1v1h-1zM89 79h1v1h-1zM89 81h1v1h-1zM89 83h1v1h-1zM89 84h1v1h-1zM89 86h1v1h-1zM89 89h1v1h-1zM89 91h1v1h-1zM89 92h1v1h-1zM89 93h1v1h-1zM89 95h1v1h-1zM89 96h1v1h-1zM89 97h1v1h-1zM89 98h1v1h-1zM89 99h1v1h-1zM89 101h1v1h-1zM89 102h1v1h-1zM89 103h1v1h-1zM89 104h1v1h-1zM89 105h1v1h-1zM89 107h1v1h-1zM89 108h1v1h-1zM89 112h1v1h-1zM89 113h1v1h-1zM89 114h1v1h-1zM90 40h1v1h-1zM90 42h1v1h-1zM90 47h1v1h-1zM90 50h1v1h-1zM90 53h1v1h-1zM90 60h1v1h-1zM90 62h1v1h-1zM90 72h1v1h-1zM90 82h1v1h-1zM90 85h1v1h-1zM90 86h1v1h-1zM90 87h1v1h-1zM90 89h1v1h-1zM90 90h1v1h-1zM90 93h1v1h-1zM90 94h1v1h-1zM90 95h1v1h-1zM90 96h1v1h-1zM90 99h1v1h-1zM90 101h1v1h-1zM90 103h1v1h-1zM90 104h1v1h-1zM90 105h1v1h-1zM90 108h1v1h-1zM90 116h1v1h-1zM91 43h1v1h-1zM91 54h1v1h-1zM91 64h1v1h-1zM91 65h1v1h-1zM91 74h1v1h-1zM91 77h1v1h-1zM91 80h1v1h-1zM91 81h1v1h-1zM91 83h1v1h-1zM91 85h1v1h-1zM91 86h1v1h-1zM91 87h1v1h-1zM91 89h1v1h-1zM91 91h1v1h-1zM91 92h1v1h-1zM91 94h1v1h-1zM91 95h1v1h-1zM91 97h1v1h-1zM91 98h1v1h-1zM91 99h1v1h-1zM91 100h1v1h-1zM91 101h1v1h-1zM91 102h1v1h-1zM91 103h1v1h-1zM91 104h1v1h-1zM91 106h1v1h-1zM91 107h1v1h-1zM91 114h1v1h-1zM91 116h1v1h-1zM91 118h1v1h-1zM91 120h1v1h-1zM92 52h1v1h-1zM92 55h1v1h-1zM92 65h1v1h-1zM92 70h1v1h-1zM92 71h1v1h-1zM92 78h1v1h-1zM92 81h1v1h-1zM92 82h1v1h-1zM92 83h1v1h-1zM92 84h1v1h-1zM92 85h1v1h-1zM92 86h1v1h-1zM92 88h1v1h-1zM92 90h1v1h-1zM92 91h1v1h-1zM92 94h1v1h-1zM92 95h1v1h-1zM92 96h1v1h-1zM92 97h1v1h-1zM92 98h1v1h-1zM92 101h1v1h-1zM92 102h1v1h-1zM92 103h1v1h-1zM92 104h1v1h-1zM92 105h1v1h-1zM92 107h1v1h-1zM92 114h1v1h-1zM93 41h1v1h-1zM93 46h1v1h-1zM93 47h1v1h-1zM93 59h1v1h-1zM93 65h1v1h-1zM93 71h1v1h-1zM93 72h1v1h-1zM93 76h1v1h-1zM93 77h1v1h-1zM93 78h1v1h-1zM93 80h1v1h-1zM93 81h1v1h-1zM93 82h1v1h-1zM93 83h1v1h-1zM93 85h1v1h-1zM93 86h1v1h-1zM93 87h1v1h-1zM93 91h1v1h-1zM93 93h1v1h-1zM93 95h1v1h-1zM93 97h1v1h-1zM93 98h1v1h-1zM93 100h1v1h-1zM93 101h1v1h-1zM93 103h1v1h-1zM93 104h1v1h-1zM93 112h1v1h-1zM93 118h1v1h-1zM94 39h1v1h-1zM94 51h1v1h-1zM94 55h1v1h-1zM94 67h1v1h-1zM94 69h1v1h-1zM94 70h1v1h-1zM94 75h1v1h-1zM94 82h1v1h-1zM94 83h1v1h-1zM94 85h1v1h-1zM94 87h1v1h-1zM94 88h1v1h-1zM94 89h1v1h-1zM94 90h1v1h-1zM94 91h1v1h-1zM94 92h1v1h-1zM94 93h1v1h-1zM94 94h1v1h-1zM94 96h1v1h-1zM94 97h1v1h-1zM94 98h1v1h-1zM94 99h1v1h-1zM94 101h1v1h-1zM94 103h1v1h-1zM94 108h1v1h-1zM94 110h1v1h-1zM94 113h1v1h-1zM95 44h1v1h-1zM95 59h1v1h-1zM95 62h1v1h-1zM95 66h1v1h-1zM95 69h1v1h-1zM95 75h1v1h-1zM95 76h1v1h-1zM95 77h1v1h-1zM95 78h1v1h-1zM95 81h1v1h-1zM95 82h1v1h-1zM95 83h1v1h-1zM95 84h1v1h-1zM95 86h1v1h-1zM95 88h1v1h-1zM95 89h1v1h-1zM95 90h1v1h-1zM95 91h1v1h-1zM95 92h1v1h-1zM95 94h1v1h-1zM95 95h1v1h-1zM95 96h1v1h-1zM95 97h1v1h-1zM95 98h1v1h-1zM95 99h1v1h-1zM95 101h1v1h-1zM95 102h1v1h-1zM95 105h1v1h-1zM95 108h1v1h-1zM95 109h1v1h-1zM95 110h1v1h-1zM95 114h1v1h-1zM95 115h1v1h-1zM96 42h1v1h-1zM96 48h1v1h-1zM96 53h1v1h-1zM96 70h1v1h-1zM96 72h1v1h-1zM96 77h1v1h-1zM96 79h1v1h-1zM96 81h1v1h-1zM96 83h1v1h-1zM96 84h1v1h-1zM96 86h1v1h-1zM96 88h1v1h-1zM96 92h1v1h-1zM96 93h1v1h-1zM96 95h1v1h-1zM96 96h1v1h-1zM96 97h1v1h-1zM96 98h1v1h-1zM96 99h1v1h-1zM96 100h1v1h-1zM96 101h1v1h-1zM96 102h1v1h-1zM96 106h1v1h-1zM97 41h1v1h-1zM97 47h1v1h-1zM97 49h1v1h-1zM97 62h1v1h-1zM97 67h1v1h-1zM97 69h1v1h-1zM97 71h1v1h-1zM97 72h1v1h-1zM97 73h1v1h-1zM97 74h1v1h-1zM97 78h1v1h-1zM97 79h1v1h-1zM97 82h1v1h-1zM97 83h1v1h-1zM97 84h1v1h-1zM97 85h1v1h-1zM97 89h1v1h-1zM97 91h1v1h-1zM97 92h1v1h-1zM97 93h1v1h-1zM97 94h1v1h-1zM97 95h1v1h-1zM97 97h1v1h-1zM97 98h1v1h-1zM97 99h1v1h-1zM97 100h1v1h-1zM97 101h1v1h-1zM97 104h1v1h-1zM98 48h1v1h-1zM98 55h1v1h-1zM98 62h1v1h-1zM98 74h1v1h-1zM98 75h1v1h-1zM98 77h1v1h-1zM98 80h1v1h-1zM98 81h1v1h-1zM98 82h1v1h-1zM98 83h1v1h-1zM98 86h1v1h-1zM98 89h1v1h-1zM98 91h1v1h-1zM98 92h1v1h-1zM98 93h1v1h-1zM98 96h1v1h-1zM98 97h1v1h-1zM98 98h1v1h-1zM98 99h1v1h-1zM98 100h1v1h-1zM98 101h1v1h-1zM98 104h1v1h-1zM98 107h1v1h-1zM98 108h1v1h-1zM99 46h1v1h-1zM99 54h1v1h-1zM99 60h1v1h-1zM99 68h1v1h-1zM99 72h1v1h-1zM99 80h1v1h-1zM99 81h1v1h-1zM99 82h1v1h-1zM99 88h1v1h-1zM99 89h1v1h-1zM99 90h1v1h-1zM99 91h1v1h-1zM99 93h1v1h-1zM99 94h1v1h-1zM99 95h1v1h-1zM99 98h1v1h-1zM99 99h1v1h-1zM99 104h1v1h-1zM99 105h1v1h-1zM99 106h1v1h-1zM99 116h1v1h-1zM100 38h1v1h-1zM100 51h1v1h-1zM100 54h1v1h-1zM100 58h1v1h-1zM100 63h1v1h-1zM100 69h1v1h-1zM100 70h1v1h-1zM100 72h1v1h-1zM100 80h1v1h-1zM100 82h1v1h-1zM100 83h1v1h-1zM100 84h1v1h-1zM100 86h1v1h-1zM100 87h1v1h-1zM100 88h1v1h-1zM100 89h1v1h-1zM100 90h1v1h-1zM100 93h1v1h-1zM100 94h1v1h-1zM100 95h1v1h-1zM100 97h1v1h-1zM100 100h1v1h-1zM100 102h1v1h-1zM100 106h1v1h-1zM100 112h1v1h-1zM101 37h1v1h-1zM101 44h1v1h-1zM101 48h1v1h-1zM101 50h1v1h-1zM101 55h1v1h-1zM101 57h1v1h-1zM101 59h1v1h-1zM101 63h1v1h-1zM101 64h1v1h-1zM101 65h1v1h-1zM101 68h1v1h-1zM101 69h1v1h-1zM101 70h1v1h-1zM101 74h1v1h-1zM101 75h1v1h-1zM101 76h1v1h-1zM101 77h1v1h-1zM101 78h1v1h-1zM101 81h1v1h-1zM101 82h1v1h-1zM101 83h1v1h-1zM101 84h1v1h-1zM101 86h1v1h-1zM101 87h1v1h-1zM101 91h1v1h-1zM101 92h1v1h-1zM101 93h1v1h-1zM101 94h1v1h-1zM101 96h1v1h-1zM101 98h1v1h-1zM101 100h1v1h-1zM101 101h1v1h-1zM101 102h1v1h-1zM101 103h1v1h-1zM101 108h1v1h-1zM101 112h1v1h-1zM102 29h1v1h-1zM102 34h1v1h-1zM102 55h1v1h-1zM102 61h1v1h-1zM102 64h1v1h-1zM102 70h1v1h-1zM102 73h1v1h-1zM102 75h1v1h-1zM102 77h1v1h-1zM102 78h1v1h-1zM102 80h1v1h-1zM102 81h1v1h-1zM102 82h1v1h-1zM102 83h1v1h-1zM102 84h1v1h-1zM102 85h1v1h-1zM102 87h1v1h-1zM102 88h1v1h-1zM102 90h1v1h-1zM102 91h1v1h-1zM102 92h1v1h-1zM102 93h1v1h-1zM102 94h1v1h-1zM102 97h1v1h-1zM102 100h1v1h-1zM102 102h1v1h-1zM103 50h1v1h-1zM103 61h1v1h-1zM103 64h1v1h-1zM103 65h1v1h-1zM103 76h1v1h-1zM103 80h1v1h-1zM103 83h1v1h-1zM103 85h1v1h-1zM103 86h1v1h-1zM103 87h1v1h-1zM103 90h1v1h-1zM103 91h1v1h-1zM103 93h1v1h-1zM103 94h1v1h-1zM103 95h1v1h-1zM103 97h1v1h-1zM103 98h1v1h-1zM103 100h1v1h-1zM103 103h1v1h-1zM104 43h1v1h-1zM104 48h1v1h-1zM104 55h1v1h-1zM104 63h1v1h-1zM104 64h1v1h-1zM104 70h1v1h-1zM104 72h1v1h-1zM104 79h1v1h-1zM104 81h1v1h-1zM104 82h1v1h-1zM104 83h1v1h-1zM104 84h1v1h-1zM104 85h1v1h-1zM104 86h1v1h-1zM104 87h1v1h-1zM104 88h1v1h-1zM104 98h1v1h-1zM104 100h1v1h-1zM104 104h1v1h-1zM104 105h1v1h-1zM104 112h1v1h-1zM105 28h1v1h-1zM105 45h1v1h-1zM105 49h1v1h-1zM105 50h1v1h-1zM105 54h1v1h-1zM105 58h1v1h-1zM105 59h1v1h-1zM105 61h1v1h-1zM105 76h1v1h-1zM105 79h1v1h-1zM105 80h1v1h-1zM105 81h1v1h-1zM105 82h1v1h-1zM105 84h1v1h-1zM105 85h1v1h-1zM105 86h1v1h-1zM105 88h1v1h-1zM105 89h1v1h-1zM105 90h1v1h-1zM105 91h1v1h-1zM105 92h1v1h-1zM105 93h1v1h-1zM105 95h1v1h-1zM105 101h1v1h-1zM105 105h1v1h-1zM106 35h1v1h-1zM106 38h1v1h-1zM106 42h1v1h-1zM106 48h1v1h-1zM106 51h1v1h-1zM106 55h1v1h-1zM106 62h1v1h-1zM106 66h1v1h-1zM106 69h1v1h-1zM106 72h1v1h-1zM106 73h1v1h-1zM106 75h1v1h-1zM106 77h1v1h-1zM106 79h1v1h-1zM106 81h1v1h-1zM106 82h1v1h-1zM106 83h1v1h-1zM106 85h1v1h-1zM106 88h1v1h-1zM106 89h1v1h-1zM106 92h1v1h-1zM106 95h1v1h-1zM106 96h1v1h-1zM106 99h1v1h-1zM107 37h1v1h-1zM107 40h1v1h-1zM107 45h1v1h-1zM107 46h1v1h-1zM107 49h1v1h-1zM107 50h1v1h-1zM107 51h1v1h-1zM107 54h1v1h-1zM107 55h1v1h-1zM107 59h1v1h-1zM107 65h1v1h-1zM107 68h1v1h-1zM107 73h1v1h-1zM107 76h1v1h-1zM107 79h1v1h-1zM107 81h1v1h-1zM107 82h1v1h-1zM107 85h1v1h-1zM107 86h1v1h-1zM107 89h1v1h-1zM107 90h1v1h-1zM107 92h1v1h-1zM107 93h1v1h-1zM107 95h1v1h-1zM107 97h1v1h-1zM107 99h1v1h-1zM107 102h1v1h-1zM107 104h1v1h-1zM107 111h1v1h-1zM108 34h1v1h-1zM108 39h1v1h-1zM108 44h1v1h-1zM108 47h1v1h-1zM108 51h1v1h-1zM108 53h1v1h-1zM108 58h1v1h-1zM108 65h1v1h-1zM108 67h1v1h-1zM108 71h1v1h-1zM108 73h1v1h-1zM108 78h1v1h-1zM108 79h1v1h-1zM108 84h1v1h-1zM108 87h1v1h-1zM108 88h1v1h-1zM108 89h1v1h-1zM108 92h1v1h-1zM108 96h1v1h-1zM108 97h1v1h-1zM108 100h1v1h-1zM108 105h1v1h-1zM109 45h1v1h-1zM109 50h1v1h-1zM109 52h1v1h-1zM109 64h1v1h-1zM109 73h1v1h-1zM109 76h1v1h-1zM109 78h1v1h-1zM109 79h1v1h-1zM109 80h1v1h-1zM109 83h1v1h-1zM109 87h1v1h-1zM109 88h1v1h-1zM109 89h1v1h-1zM109 92h1v1h-1zM109 93h1v1h-1zM109 96h1v1h-1zM109 103h1v1h-1zM109 104h1v1h-1zM109 105h1v1h-1zM110 32h1v1h-1zM110 33h1v1h-1zM110 42h1v1h-1zM110 45h1v1h-1zM110 50h1v1h-1zM110 56h1v1h-1zM110 58h1v1h-1zM110 70h1v1h-1zM110 72h1v1h-1zM110 75h1v1h-1zM110 76h1v1h-1zM110 77h1v1h-1zM110 78h1v1h-1zM110 81h1v1h-1zM110 82h1v1h-1zM110 84h1v1h-1zM110 87h1v1h-1zM110 89h1v1h-1zM110 90h1v1h-1zM110 92h1v1h-1zM110 96h1v1h-1zM111 40h1v1h-1zM111 44h1v1h-1zM111 46h1v1h-1zM111 49h1v1h-1zM111 50h1v1h-1zM111 63h1v1h-1zM111 64h1v1h-1zM111 76h1v1h-1zM111 78h1v1h-1zM111 79h1v1h-1zM111 80h1v1h-1zM111 81h1v1h-1zM111 82h1v1h-1zM111 83h1v1h-1zM111 84h1v1h-1zM111 86h1v1h-1zM111 87h1v1h-1zM111 88h1v1h-1zM111 91h1v1h-1zM112 33h1v1h-1zM112 51h1v1h-1zM112 55h1v1h-1zM112 57h1v1h-1zM112 59h1v1h-1zM112 60h1v1h-1zM112 65h1v1h-1zM112 66h1v1h-1zM112 67h1v1h-1zM112 69h1v1h-1zM112 71h1v1h-1zM112 74h1v1h-1zM112 75h1v1h-1zM112 76h1v1h-1zM112 77h1v1h-1zM112 78h1v1h-1zM112 79h1v1h-1zM112 80h1v1h-1zM112 81h1v1h-1zM112 85h1v1h-1zM112 86h1v1h-1zM112 87h1v1h-1zM112 89h1v1h-1zM112 91h1v1h-1zM112 92h1v1h-1zM112 94h1v1h-1zM113 43h1v1h-1zM113 53h1v1h-1zM113 57h1v1h-1zM113 59h1v1h-1zM113 60h1v1h-1zM113 62h1v1h-1zM113 71h1v1h-1zM113 72h1v1h-1zM113 76h1v1h-1zM113 78h1v1h-1zM113 81h1v1h-1zM113 82h1v1h-1zM113 84h1v1h-1zM113 86h1v1h-1zM113 88h1v1h-1zM113 89h1v1h-1zM114 28h1v1h-1zM114 34h1v1h-1zM114 37h1v1h-1zM114 41h1v1h-1zM114 44h1v1h-1zM114 46h1v1h-1zM114 61h1v1h-1zM114 63h1v1h-1zM114 64h1v1h-1zM114 65h1v1h-1zM114 66h1v1h-1zM114 67h1v1h-1zM114 69h1v1h-1zM114 70h1v1h-1zM114 72h1v1h-1zM114 74h1v1h-1zM114 76h1v1h-1zM114 78h1v1h-1zM114 79h1v1h-1zM114 82h1v1h-1zM114 83h1v1h-1zM114 84h1v1h-1zM114 85h1v1h-1zM114 86h1v1h-1zM114 87h1v1h-1zM114 89h1v1h-1zM114 91h1v1h-1zM114 100h1v1h-1zM115 39h1v1h-1zM115 45h1v1h-1zM115 46h1v1h-1zM115 56h1v1h-1zM115 61h1v1h-1zM115 71h1v1h-1zM115 72h1v1h-1zM115 73h1v1h-1zM115 74h1v1h-1zM115 75h1v1h-1zM115 76h1v1h-1zM115 81h1v1h-1zM115 82h1v1h-1zM115 83h1v1h-1zM115 84h1v1h-1zM115 86h1v1h-1zM115 88h1v1h-1zM115 90h1v1h-1zM115 94h1v1h-1zM115 96h1v1h-1zM116 22h1v1h-1zM116 44h1v1h-1zM116 45h1v1h-1zM116 46h1v1h-1zM116 48h1v1h-1zM116 54h1v1h-1zM116 55h1v1h-1zM116 64h1v1h-1zM116 71h1v1h-1zM116 73h1v1h-1zM116 74h1v1h-1zM116 77h1v1h-1zM116 78h1v1h-1zM116 79h1v1h-1zM116 80h1v1h-1zM116 81h1v1h-1zM116 85h1v1h-1zM116 88h1v1h-1zM116 89h1v1h-1zM117 30h1v1h-1zM117 32h1v1h-1zM117 40h1v1h-1zM117 46h1v1h-1zM117 50h1v1h-1zM117 54h1v1h-1zM117 58h1v1h-1zM117 59h1v1h-1zM117 62h1v1h-1zM117 67h1v1h-1zM117 68h1v1h-1zM117 69h1v1h-1zM117 71h1v1h-1zM117 72h1v1h-1zM117 73h1v1h-1zM117 75h1v1h-1zM117 76h1v1h-1zM117 79h1v1h-1zM117 81h1v1h-1zM117 82h1v1h-1zM117 83h1v1h-1zM117 85h1v1h-1zM117 86h1v1h-1zM117 91h1v1h-1zM117 93h1v1h-1zM118 25h1v1h-1zM118 31h1v1h-1zM118 34h1v1h-1zM118 40h1v1h-1zM118 52h1v1h-1zM118 55h1v1h-1zM118 59h1v1h-1zM118 61h1v1h-1zM118 62h1v1h-1zM118 64h1v1h-1zM118 68h1v1h-1zM118 69h1v1h-1zM118 70h1v1h-1zM118 71h1v1h-1zM118 72h1v1h-1zM118 75h1v1h-1zM118 79h1v1h-1zM118 80h1v1h-1zM118 81h1v1h-1zM118 82h1v1h-1zM118 85h1v1h-1zM118 87h1v1h-1zM118 91h1v1h-1zM119 37h1v1h-1zM119 41h1v1h-1zM119 44h1v1h-1zM119 47h1v1h-1zM119 50h1v1h-1zM119 51h1v1h-1zM119 54h1v1h-1zM119 57h1v1h-1zM119 61h1v1h-1zM119 62h1v1h-1zM119 63h1v1h-1zM119 67h1v1h-1zM119 71h1v1h-1zM119 77h1v1h-1zM119 81h1v1h-1zM119 84h1v1h-1zM119 85h1v1h-1zM119 86h1v1h-1zM119 87h1v1h-1zM119 88h1v1h-1zM119 89h1v1h-1zM119 102h1v1h-1zM120 48h1v1h-1zM120 55h1v1h-1zM120 56h1v1h-1zM120 64h1v1h-1zM120 67h1v1h-1zM120 69h1v1h-1zM120 74h1v1h-1zM120 76h1v1h-1zM120 77h1v1h-1zM120 80h1v1h-1zM120 81h1v1h-1zM120 83h1v1h-1zM120 84h1v1h-1zM120 93h1v1h-1zM120 100h1v1h-1zM121 23h1v1h-1zM121 33h1v1h-1zM121 41h1v1h-1zM121 42h1v1h-1zM121 45h1v1h-1zM121 53h1v1h-1zM121 55h1v1h-1zM121 57h1v1h-1zM121 67h1v1h-1zM121 68h1v1h-1zM121 69h1v1h-1zM121 70h1v1h-1zM121 72h1v1h-1zM121 73h1v1h-1zM121 74h1v1h-1zM121 75h1v1h-1zM121 76h1v1h-1zM121 79h1v1h-1zM121 80h1v1h-1zM121 81h1v1h-1zM121 82h1v1h-1zM121 91h1v1h-1zM121 97h1v1h-1zM122 38h1v1h-1zM122 40h1v1h-1zM122 45h1v1h-1zM122 50h1v1h-1zM122 53h1v1h-1zM122 58h1v1h-1zM122 61h1v1h-1zM122 62h1v1h-1zM122 64h1v1h-1zM122 65h1v1h-1zM122 67h1v1h-1zM122 68h1v1h-1zM122 69h1v1h-1zM122 73h1v1h-1zM122 76h1v1h-1zM122 80h1v1h-1zM122 81h1v1h-1zM122 83h1v1h-1zM122 85h1v1h-1zM123 52h1v1h-1zM123 58h1v1h-1zM123 59h1v1h-1zM123 63h1v1h-1zM123 64h1v1h-1zM123 65h1v1h-1zM123 66h1v1h-1zM123 67h1v1h-1zM123 69h1v1h-1zM123 73h1v1h-1zM123 77h1v1h-1zM123 78h1v1h-1zM123 80h1v1h-1zM123 82h1v1h-1zM123 86h1v1h-1zM123 88h1v1h-1zM124 27h1v1h-1zM124 32h1v1h-1zM124 49h1v1h-1zM124 50h1v1h-1zM124 56h1v1h-1zM124 58h1v1h-1zM124 59h1v1h-1zM124 62h1v1h-1zM124 63h1v1h-1zM124 64h1v1h-1zM124 66h1v1h-1zM124 67h1v1h-1zM124 69h1v1h-1zM124 72h1v1h-1zM124 73h1v1h-1zM124 74h1v1h-1zM124 75h1v1h-1zM124 77h1v1h-1zM124 79h1v1h-1zM124 87h1v1h-1zM124 94h1v1h-1zM125 35h1v1h-1zM125 40h1v1h-1zM125 47h1v1h-1zM125 49h1v1h-1zM125 50h1v1h-1zM125 51h1v1h-1zM125 63h1v1h-1zM125 64h1v1h-1zM125 66h1v1h-1zM125 70h1v1h-1zM125 72h1v1h-1zM125 74h1v1h-1zM125 76h1v1h-1zM125 78h1v1h-1zM125 80h1v1h-1zM125 81h1v1h-1zM125 93h1v1h-1zM126 21h1v1h-1zM126 23h1v1h-1zM126 25h1v1h-1zM126 32h1v1h-1zM126 38h1v1h-1zM126 41h1v1h-1zM126 44h1v1h-1zM126 49h1v1h-1zM126 55h1v1h-1zM126 60h1v1h-1zM126 61h1v1h-1zM126 68h1v1h-1zM126 71h1v1h-1zM126 72h1v1h-1zM126 73h1v1h-1zM126 74h1v1h-1zM126 75h1v1h-1zM126 76h1v1h-1zM126 80h1v1h-1zM126 81h1v1h-1zM126 83h1v1h-1zM127 29h1v1h-1zM127 38h1v1h-1zM127 51h1v1h-1zM127 58h1v1h-1zM127 63h1v1h-1zM127 65h1v1h-1zM127 71h1v1h-1zM127 72h1v1h-1zM127 75h1v1h-1zM127 76h1v1h-1zM127 77h1v1h-1zM127 78h1v1h-1zM127 79h1v1h-1zM128 37h1v1h-1zM128 40h1v1h-1zM128 45h1v1h-1zM128 49h1v1h-1zM128 53h1v1h-1zM128 54h1v1h-1zM128 57h1v1h-1zM128 60h1v1h-1zM128 62h1v1h-1zM128 66h1v1h-1zM128 70h1v1h-1zM128 73h1v1h-1zM128 75h1v1h-1zM128 80h1v1h-1zM129 28h1v1h-1zM129 32h1v1h-1zM129 38h1v1h-1zM129 40h1v1h-1zM129 41h1v1h-1zM129 51h1v1h-1zM129 55h1v1h-1zM129 61h1v1h-1zM129 62h1v1h-1zM129 66h1v1h-1zM129 67h1v1h-1zM129 69h1v1h-1zM129 83h1v1h-1zM129 85h1v1h-1zM130 24h1v1h-1zM130 33h1v1h-1zM130 38h1v1h-1zM130 42h1v1h-1zM130 53h1v1h-1zM130 56h1v1h-1zM130 57h1v1h-1zM130 59h1v1h-1zM130 60h1v1h-1zM130 61h1v1h-1zM130 62h1v1h-1zM130 63h1v1h-1zM130 67h1v1h-1zM130 68h1v1h-1zM130 70h1v1h-1zM130 75h1v1h-1zM130 78h1v1h-1zM130 80h1v1h-1zM131 22h1v1h-1zM131 31h1v1h-1zM131 36h1v1h-1zM131 37h1v1h-1zM131 39h1v1h-1zM131 52h1v1h-1zM131 56h1v1h-1zM131 63h1v1h-1zM131 67h1v1h-1zM131 70h1v1h-1zM131 76h1v1h-1zM131 78h1v1h-1zM132 46h1v1h-1zM132 48h1v1h-1zM132 51h1v1h-1zM132 55h1v1h-1zM132 57h1v1h-1zM132 64h1v1h-1zM132 65h1v1h-1zM132 66h1v1h-1zM132 69h1v1h-1zM132 71h1v1h-1zM132 75h1v1h-1zM132 79h1v1h-1zM132 83h1v1h-1zM133 35h1v1h-1zM133 36h1v1h-1zM133 38h1v1h-1zM133 40h1v1h-1zM133 46h1v1h-1zM133 47h1v1h-1zM133 50h1v1h-1zM133 55h1v1h-1zM133 56h1v1h-1zM133 59h1v1h-1zM133 60h1v1h-1zM133 61h1v1h-1zM133 68h1v1h-1zM133 69h1v1h-1zM133 73h1v1h-1zM134 25h1v1h-1zM134 33h1v1h-1zM134 51h1v1h-1zM134 53h1v1h-1zM134 54h1v1h-1zM134 56h1v1h-1zM134 59h1v1h-1zM134 60h1v1h-1zM135 25h1v1h-1zM135 47h1v1h-1zM135 48h1v1h-1zM135 61h1v1h-1zM135 63h1v1h-1zM135 65h1v1h-1zM135 67h1v1h-1zM135 71h1v1h-1zM135 72h1v1h-1zM136 34h1v1h-1zM136 37h1v1h-1zM136 45h1v1h-1zM136 46h1v1h-1zM136 53h1v1h-1zM136 55h1v1h-1zM136 57h1v1h-1zM136 59h1v1h-1zM136 60h1v1h-1zM136 62h1v1h-1zM136 63h1v1h-1zM136 65h1v1h-1zM136 66h1v1h-1zM136 67h1v1h-1zM136 68h1v1h-1zM136 69h1v1h-1zM136 70h1v1h-1zM136 72h1v1h-1zM136 73h1v1h-1zM136 79h1v1h-1zM137 30h1v1h-1zM137 43h1v1h-1zM137 56h1v1h-1zM137 63h1v1h-1zM137 64h1v1h-1zM137 65h1v1h-1zM137 67h1v1h-1zM137 70h1v1h-1zM137 71h1v1h-1zM137 73h1v1h-1zM138 49h1v1h-1zM138 50h1v1h-1zM138 54h1v1h-1zM138 55h1v1h-1zM138 57h1v1h-1zM138 58h1v1h-1zM138 60h1v1h-1zM138 65h1v1h-1zM138 67h1v1h-1zM138 68h1v1h-1zM138 69h1v1h-1zM138 71h1v1h-1zM139 28h1v1h-1zM139 31h1v1h-1zM139 33h1v1h-1zM139 36h1v1h-1zM139 42h1v1h-1zM139 46h1v1h-1zM139 50h1v1h-1zM139 52h1v1h-1zM139 54h1v1h-1zM139 62h1v1h-1zM139 63h1v1h-1zM139 65h1v1h-1zM139 66h1v1h-1zM139 70h1v1h-1zM140 31h1v1h-1zM140 43h1v1h-1zM140 53h1v1h-1zM140 57h1v1h-1zM140 59h1v1h-1zM140 65h1v1h-1zM140 67h1v1h-1zM140 68h1v1h-1zM140 74h1v1h-1zM141 22h1v1h-1zM141 37h1v1h-1zM141 43h1v1h-1zM141 51h1v1h-1zM141 55h1v1h-1zM141 57h1v1h-1zM141 59h1v1h-1zM142 29h1v1h-1zM142 31h1v1h-1zM142 42h1v1h-1zM142 48h1v1h-1zM142 50h1v1h-1zM142 52h1v1h-1zM142 54h1v1h-1zM142 55h1v1h-1zM142 57h1v1h-1zM142 59h1v1h-1zM142 62h1v1h-1zM143 18h1v1h-1zM143 21h1v1h-1zM143 33h1v1h-1zM143 34h1v1h-1zM143 35h1v1h-1zM143 37h1v1h-1zM143 40h1v1h-1zM143 44h1v1h-1zM143 47h1v1h-1zM143 53h1v1h-1zM143 54h1v1h-1zM143 59h1v1h-1zM143 62h1v1h-1zM143 68h1v1h-1zM143 69h1v1h-1zM144 21h1v1h-1zM144 24h1v1h-1zM144 36h1v1h-1zM144 37h1v1h-1zM144 44h1v1h-1zM144 45h1v1h-1zM144 47h1v1h-1zM144 49h1v1h-1zM144 50h1v1h-1zM144 52h1v1h-1zM144 57h1v1h-1zM144 58h1v1h-1zM145 12h1v1h-1zM145 17h1v1h-1zM145 33h1v1h-1zM145 47h1v1h-1zM145 48h1v1h-1zM145 51h1v1h-1zM145 52h1v1h-1zM145 53h1v1h-1zM145 55h1v1h-1zM145 59h1v1h-1zM145 60h1v1h-1zM145 65h1v1h-1zM145 66h1v1h-1zM146 33h1v1h-1zM146 34h1v1h-1zM146 37h1v1h-1zM146 45h1v1h-1zM146 47h1v1h-1zM146 51h1v1h-1zM146 52h1v1h-1zM146 53h1v1h-1zM146 55h1v1h-1zM146 58h1v1h-1zM146 60h1v1h-1zM146 63h1v1h-1zM147 20h1v1h-1zM147 34h1v1h-1zM147 41h1v1h-1zM147 45h1v1h-1zM147 48h1v1h-1zM147 50h1v1h-1zM147 51h1v1h-1zM147 52h1v1h-1zM147 54h1v1h-1zM147 57h1v1h-1zM147 60h1v1h-1zM148 39h1v1h-1zM148 45h1v1h-1zM148 48h1v1h-1zM148 50h1v1h-1zM148 52h1v1h-1zM149 40h1v1h-1zM149 44h1v1h-1zM149 46h1v1h-1zM149 52h1v1h-1zM149 53h1v1h-1zM149 55h1v1h-1zM149 64h1v1h-1zM150 19h1v1h-1zM150 20h1v1h-1zM150 21h1v1h-1zM150 32h1v1h-1zM150 43h1v1h-1zM150 45h1v1h-1zM150 47h1v1h-1zM150 48h1v1h-1zM150 60h1v1h-1zM151 26h1v1h-1zM151 31h1v1h-1zM151 35h1v1h-1zM151 36h1v1h-1zM151 38h1v1h-1zM151 41h1v1h-1zM151 45h1v1h-1zM151 50h1v1h-1zM152 15h1v1h-1zM152 26h1v1h-1zM152 33h1v1h-1zM152 41h1v1h-1zM152 49h1v1h-1zM153 11h1v1h-1zM153 17h1v1h-1zM153 26h1v1h-1zM153 28h1v1h-1zM153 35h1v1h-1zM153 36h1v1h-1zM153 38h1v1h-1zM153 40h1v1h-1zM154 24h1v1h-1zM154 31h1v1h-1zM154 32h1v1h-1zM154 38h1v1h-1zM154 40h1v1h-1zM154 48h1v1h-1zM154 49h1v1h-1zM154 51h1v1h-1zM154 53h1v1h-1zM155 18h1v1h-1zM155 26h1v1h-1zM155 31h1v1h-1zM155 33h1v1h-1zM155 37h1v1h-1zM155 38h1v1h-1zM155 40h1v1h-1zM155 41h1v1h-1zM155 43h1v1h-1zM155 50h1v1h-1zM156 16h1v1h-1zM156 22h1v1h-1zM156 23h1v1h-1zM156 27h1v1h-1zM156 28h1v1h-1zM156 37h1v1h-1zM156 39h1v1h-1zM156 41h1v1h-1zM156 43h1v1h-1zM156 45h1v1h-1zM157 21h1v1h-1zM157 24h1v1h-1zM157 33h1v1h-1zM157 35h1v1h-1zM157 40h1v1h-1zM157 41h1v1h-1zM157 47h1v1h-1zM157 49h1v1h-1zM158 20h1v1h-1zM158 27h1v1h-1zM158 31h1v1h-1zM158 34h1v1h-1zM158 35h1v1h-1zM158 38h1v1h-1zM158 42h1v1h-1zM159 16h1v1h-1zM159 28h1v1h-1zM160 15h1v1h-1zM160 18h1v1h-1zM160 30h1v1h-1zM160 32h1v1h-1zM160 35h1v1h-1zM160 36h1v1h-1zM160 41h1v1h-1zM160 45h1v1h-1zM161 24h1v1h-1zM161 31h1v1h-1zM161 32h1v1h-1zM161 33h1v1h-1zM161 37h1v1h-1zM161 38h1v1h-1zM161 44h1v1h-1zM162 8h1v1h-1zM162 18h1v1h-1zM162 26h1v1h-1zM162 32h1v1h-1zM162 33h1v1h-1zM163 12h1v1h-1zM163 31h1v1h-1zM163 32h1v1h-1zM163 34h1v1h-1zM163 39h1v1h-1zM164 14h1v1h-1zM164 37h1v1h-1zM164 38h1v1h-1zM165 21h1v1h-1zM165 26h1v1h-1zM165 27h1v1h-1zM165 31h1v1h-1zM165 34h1v1h-1zM165 37h1v1h-1zM166 15h1v1h-1zM166 23h1v1h-1zM166 25h1v1h-1zM166 32h1v1h-1zM166 34h1v1h-1zM166 36h1v1h-1zM166 45h1v1h-1zM167 11h1v1h-1zM167 13h1v1h-1zM167 24h1v1h-1zM167 28h1v1h-1zM167 32h1v1h-1zM167 33h1v1h-1zM167 35h1v1h-1zM168 28h1v1h-1zM168 31h1v1h-1zM169 20h1v1h-1zM169 25h1v1h-1zM169 30h1v1h-1zM169 31h1v1h-1zM170 10h1v1h-1zM170 15h1v1h-1zM170 30h1v1h-1zM170 31h1v1h-1zM171 15h1v1h-1zM171 25h1v1h-1zM171 27h1v1h-1zM171 29h1v1h-1zM172 13h1v1h-1zM172 15h1v1h-1zM172 18h1v1h-1zM172 28h1v1h-1zM173 14h1v1h-1zM173 22h1v1h-1zM173 27h1v1h-1zM174 12h1v1h-1zM174 14h1v1h-1zM174 20h1v1h-1zM174 22h1v1h-1zM175 12h1v1h-1zM175 16h1v1h-1zM175 17h1v1h-1zM176 15h1v1h-1zM176 18h1v1h-1zM176 23h1v1h-1zM177 16h1v1h-1zM177 17h1v1h-1zM178 13h1v1h-1zM178 16h1v1h-1zM178 17h1v1h-1zM179 14h1v1h-1z" fill="#000" fill-opacity="0.88"/>
<line x1="45.8" y1="3.5" x2="246.7" y2="3.5" stroke="#000" stroke-width="1"/>
<line x1="246.2" y1="3" x2="246.2" y2="180.8" stroke="#777" stroke-width="1"/>
<line x1="45.1" y1="180.2" x2="246.7" y2="180.2" stroke="#000" stroke-width="1.2"/>
<line x1="45.8" y1="3" x2="45.8" y2="180.8" stroke="#000" stroke-width="1.4"/>
<path d="M45.1 180.2h-3M45.1 166.9h-1.6M45.1 159.12h-1.6M45.1 153.6h-1.6M45.1 149.32h-1.6M45.1 145.83h-1.6M45.1 142.87h-1.6M45.1 140.31h-1.6M45.1 138.05h-1.6M45.1 136.02h-3M45.1 122.73h-1.6M45.1 114.95h-1.6M45.1 109.43h-1.6M45.1 105.15h-1.6M45.1 101.65h-1.6M45.1 98.69h-1.6M45.1 96.13h-1.6M45.1 93.87h-1.6M45.1 91.85h-3M45.1 78.55h-1.6M45.1 70.77h-1.6M45.1 65.25h-1.6M45.1 60.97h-1.6M45.1 57.48h-1.6M45.1 54.52h-1.6M45.1 51.96h-1.6M45.1 49.7h-1.6M45.1 47.68h-3M45.1 34.38h-1.6M45.1 26.6h-1.6M45.1 21.08h-1.6M45.1 16.8h-1.6M45.1 13.3h-1.6M45.1 10.34h-1.6M45.1 7.78h-1.6M45.1 5.52h-1.6M45.1 3.5h-3" stroke="#000" stroke-width="1" fill="none"/>
<path d="M45.8 180.8v3.5M60.88 180.8v1.6M69.7 180.8v1.6M75.96 180.8v1.6M80.82 180.8v1.6M84.79 180.8v1.6M88.14 180.8v1.6M91.04 180.8v1.6M93.61 180.8v1.6M95.9 180.8v3.5M110.98 180.8v1.6M119.8 180.8v1.6M126.06 180.8v1.6M130.92 180.8v1.6M134.89 180.8v1.6M138.24 180.8v1.6M141.14 180.8v1.6M143.71 180.8v1.6M146 180.8v3.5M161.08 180.8v1.6M169.9 180.8v1.6M176.16 180.8v1.6M181.02 180.8v1.6M184.99 180.8v1.6M188.34 180.8v1.6M191.24 180.8v1.6M193.81 180.8v1.6M196.1 180.8v3.5M211.18 180.8v1.6M220 180.8v1.6M226.26 180.8v1.6M231.12 180.8v1.6M235.09 180.8v1.6M238.44 180.8v1.6M241.34 180.8v1.6M243.91 180.8v1.6M246.2 180.8v3.5" stroke="#000" stroke-width="1" fill="none"/>
<text x="0.6" y="14.4" font-size="21.5" font-weight="bold">A</text>
<text x="40" y="7.6" font-size="11" text-anchor="end">10<tspan font-size="6.4" dy="-3.0">4</tspan></text>
<text x="40" y="53.7" font-size="11" text-anchor="end">10<tspan font-size="6.4" dy="-3.0">3</tspan></text>
<text x="40" y="96.3" font-size="11" text-anchor="end">10<tspan font-size="6.4" dy="-3.0">2</tspan></text>
<text x="40" y="141.6" font-size="11" text-anchor="end">10<tspan font-size="6.4" dy="-3.0">1</tspan></text>
<text x="40" y="188" font-size="11" text-anchor="end">10<tspan font-size="6.4" dy="-3.0">0</tspan></text>
<text x="40.2" y="196.4" font-size="10.5">10<tspan font-size="6.4" dy="-3.0">0</tspan></text>
<text x="89.2" y="196.4" font-size="10.5">10<tspan font-size="6.4" dy="-3.0">1</tspan></text>
<text x="137.2" y="196.4" font-size="10.5">10<tspan font-size="6.4" dy="-3.0">2</tspan></text>
<text x="187.5" y="196.4" font-size="10.5">10<tspan font-size="6.4" dy="-3.0">3</tspan></text>
<text x="236" y="196.4" font-size="10.5">10<tspan font-size="6.4" dy="-3.0">4</tspan></text>
<text x="89.6" y="214.4" font-size="16.2">Forward Scatter</text>
<text transform="translate(15.3 91.4) rotate(-90)" text-anchor="middle" font-size="16">Side Scatter</text>
<path d="M308.5 185.8L308.5 130.92H309.7V128.11H310.9V120.26H312.1V122.53H313.3V117.52H314.5V113.99H315.7V116H316.9V111.28H318.1V104.84H319.3V97.26H320.5V101.62H321.7V97.39H322.9V97.51H324.1V92.31H325.3V94.17H326.5V98.13H327.7V86.67H328.9V84.96H330.1V90.64H331.3V92.31H332.5V97.29H333.7V97.51H334.9V93.64H336.1V96.55H337.3V95.34H338.5V94.39H339.7V95.03H340.9V90.98H342.1V90.57H343.3V85.09H344.5V89.32H345.7V87.39H346.9V91.63H348.1V92.57H349.3V97.54H350.5V99.36H351.7V89.62H352.9V90.25H354.1V95.47H355.3V100.07H356.5V110.9H357.7V117.39H358.9V121.65H360.1V127.07H361.3V121.8H362.5V128.79H363.7V120.22H364.9V129.92H366.1V119.37H367.3V129.16H368.5V144.35H369.7V145.65H370.9V139.86H372.1V147.26H373.3V142.71H374.5V151.85H375.7V156.95H376.9V156.01H378.1V157.3H379.3V160.69H380.5V160.68H381.7V158.17H382.9V149.87H384.1V151.4H385.3V158.49H386.5V158.13H387.7V161.83H388.9V164.22H390.1V160.96H391.3V167.98H392.5V167.57H393.7V170.47H394.9V174.08H396.1V173.05H397.3V178.53H398.5V177.51H399.7V180.03H400.9V179.11H402.1V180.09H403.3V180.07H404.5V176.85H405.7V178.1H406.9V180.76H408.1V178.58H409.3V181.99H410.5V181.86H411.7V180.17H412.9V181.75H414.1V184.31H415.3V182.58H416.5V185.45H417V185.8Z" fill="#6e6e6e"/>
<path d="M309 185.8L309 162.56H309.9V162.3H310.8V161.12H311.7V152.96H312.6V150.11H313.5V156.02H314.4V154H315.3V163.1H316.2V160.61H317.1V158.71H318V157.72H318.9V159.51H319.8V147.58H320.7V151.01H321.6V142.59H322.5V154.06H323.4V135.19H324.3V148.62H325.2V131.35H326.1V142.9H327V134.05H327.9V134.69H328.8V143.99H329.7V126.83H330.6V128.8H331.5V143.59H332.4V137.08H333.3V131H334.2V145.22H335.1V144.97H336V130.09H336.9V134.31H337.8V127.18H338.7V129.3H339.6V133.28H340.5V124.24H341.4V135.09H342.3V124.29H343.2V127.93H344.1V138.87H345V131.41H345.9V127.94H346.8V126.62H347.7V121.34H348.6V116.95H349.5V108.02H350.4V115.85H351.3V117.45H352.2V116.83H353.1V110.58H354V105.15H354.9V103.81H355.8V108.13H356.7V106.82H357.6V91H358.5V92.51H359.4V94.8H360.3V99.22H361.2V109.97H362.1V100.16H363V83.67H363.9V112.42H364.8V99.99H365.7V102.93H366.6V93.56H367.5V101.53H368.4V100.54H369.3V112.84H370.2V90.98H371.1V105.68H372V94.85H372.9V110.36H373.8V91.04H374.7V99.48H375.6V101.31H376.5V107.46H377.4V92.24H378.3V102.29H379.2V96.06H380.1V97.44H381V101.33H381.9V112.64H382.8V101.01H383.7V112.87H384.6V92.74H385.5V110.7H386.4V97.66H387.3V93.68H388.2V104.07H389.1V106.68H390V90.57H390.9V95.6H391.8V103.14H392.7V97.6H393.6V96.49H394.5V93.15H395.4V94.19H396.3V102.51H397.2V108.46H398.1V109.27H399V103.23H399.9V97.76H400.8V102.7H401.7V109.06H402.6V111.19H403.5V109.65H404.4V104.92H405.3V110.48H406.2V111.44H407.1V116.17H408V112.85H408.9V127.51H409.8V128.96H410.7V118.22H411.6V121.52H412.5V131.67H413.4V122.88H414.3V133.9H415.2V127.65H416.1V130.45H417V130.86H417.9V123.69H418.8V125.06H419.7V125.15H420.6V133.86H421.5V136.2H422.4V132.84H423.3V143.59H424.2V140.76H425.1V138.45H426V139.51H426.9V144.88H427.8V137.78H428.7V137.9H429.6V145.44H430.5V149.68H431.4V150.73H432.3V150.76H433.2V152.44H434.1V157.69H435V156.31H435.9V152.73H436.8V148.65H437.7V149.37H438.6V156.11H439.5V153.59H440.4V148.96H441.3V155.47H442.2V157.86H443.1V157.96H444V159.8H444.9V160.93H445.8V158.41H446.7V160.42H447.6V155.39H448.5V150.61H449.4V152.58H450.3V154.26H451.2V163.59H452.1V162.52H453V163.05H453.9V165.56H454.8V159.98H455.7V163.72H456.6V164.77H457.5V161.72H458.4V160.71H459.3V163.15H460.2V162.72H461.1V168.25H462V160.51H462.9V159.88H463.8V164.31H464.7V169.14H465.6V169.49H466.5V167.94H467.4V169.89H468.3V166.65H469.2V165.3H470.1V169.73H471V170.67H471.9V170.19H472.8V174.12H473.7V173.63H474.6V174.19H475.5V174.95H476.4V178.2H477.3V173.77H478.2V175.87H479.1V175.77H480V175.69H480.9V176.89H481.8V176.34H482.7V178.99H483.6V177.7H484.5V178.44H485.4V177H486.3V178.13H487.2V178.63H488.1V179.48H489V178.08H489.9V178.8H490.8V179.88H491.7V179.83H492.6V178.52H493.5V179.22H494.4V179.73H495.3V179.09H496.2V179.6H497.1V179.62H498V180.24H498.9V179.53H499.8V179.76H500.7V179.37H501.6V179.9H502.5V179.46H503.4V179.71H504.3V179.66H505.2V179.82H506.1V179.74H507V180.1H507.9V181.11H508.8V181.35H509.7V181.71H510.6V183.79H511.5V183.73H512.4V185.14H512.5V185.8Z" fill="none" stroke="#000" stroke-width="1.9"/>
<line x1="307.6" y1="10.6" x2="514.65" y2="10.6" stroke="#000" stroke-width="1.5"/>
<line x1="513.8" y1="9.85" x2="513.8" y2="186.8" stroke="#000" stroke-width="1.7"/>
<line x1="306.3" y1="185.8" x2="514.65" y2="185.8" stroke="#000" stroke-width="2"/>
<line x1="307.6" y1="9.85" x2="307.6" y2="186.8" stroke="#000" stroke-width="2.6"/>
<path d="M306.4 186.3h-3.8M306.4 179.29h-2.2M306.4 172.28h-2.2M306.4 165.28h-2.2M306.4 158.27h-2.2M306.4 151.26h-3.8M306.4 144.25h-2.2M306.4 137.24h-2.2M306.4 130.24h-2.2M306.4 123.23h-2.2M306.4 116.22h-3.8M306.4 109.21h-2.2M306.4 102.2h-2.2M306.4 95.2h-2.2M306.4 88.19h-2.2M306.4 81.18h-3.8M306.4 74.17h-2.2M306.4 67.16h-2.2M306.4 60.16h-2.2M306.4 53.15h-2.2M306.4 46.14h-3.8M306.4 39.13h-2.2M306.4 32.12h-2.2M306.4 25.12h-2.2M306.4 18.11h-2.2M306.4 11.1h-3.8" stroke="#000" stroke-width="1.4" fill="none"/>
<path d="M307.6 186.8v3.5M323.12 186.8v2M332.2 186.8v2M338.64 186.8v2M343.63 186.8v2M347.71 186.8v2M351.16 186.8v2M354.15 186.8v2M356.79 186.8v2M359.15 186.8v3.5M374.67 186.8v2M383.75 186.8v2M390.19 186.8v2M395.18 186.8v2M399.26 186.8v2M402.71 186.8v2M405.7 186.8v2M408.34 186.8v2M410.7 186.8v3.5M426.22 186.8v2M435.3 186.8v2M441.74 186.8v2M446.73 186.8v2M450.81 186.8v2M454.26 186.8v2M457.25 186.8v2M459.89 186.8v2M462.25 186.8v3.5M477.77 186.8v2M486.85 186.8v2M493.29 186.8v2M498.28 186.8v2M502.36 186.8v2M505.81 186.8v2M508.8 186.8v2M511.44 186.8v2M513.8 186.8v3.5" stroke="#000" stroke-width="1.4" fill="none"/>
<text x="260" y="15.4" font-size="20.5" font-weight="bold">B</text>
<text transform="translate(295.8 10.5) rotate(-90)" text-anchor="middle" font-size="10.5">50</text>
<text transform="translate(295.8 46.2) rotate(-90)" text-anchor="middle" font-size="10.5">40</text>
<text transform="translate(295.8 81.3) rotate(-90)" text-anchor="middle" font-size="10.5">30</text>
<text transform="translate(295.8 115.6) rotate(-90)" text-anchor="middle" font-size="10.5">20</text>
<text transform="translate(295.8 152.3) rotate(-90)" text-anchor="middle" font-size="10.5">10</text>
<text transform="translate(295.8 184.8) rotate(-90)" text-anchor="middle" font-size="10.5">0</text>
<text x="304.5" y="202.9" font-size="10.5">10<tspan font-size="6.4" dy="-3.0">0</tspan></text>
<text x="353" y="202.9" font-size="10.5">10<tspan font-size="6.4" dy="-3.0">1</tspan></text>
<text x="401.5" y="202.9" font-size="10.5">10<tspan font-size="6.4" dy="-3.0">2</tspan></text>
<text x="451.5" y="202.9" font-size="10.5">10<tspan font-size="6.4" dy="-3.0">3</tspan></text>
<text x="500.8" y="202.9" font-size="10.5">10<tspan font-size="6.4" dy="-3.0">4</tspan></text>
<text x="392" y="225.4" font-size="16">FL1-H</text>
<text x="324.8" y="33.8" font-size="16.4">CD62L</text>
<text transform="translate(273.3 104.3) rotate(-90)" text-anchor="middle" font-size="16">Cell Counts</text>
<path d="M49.2 423.8L49.2 399.63H50.2V395.94H51.2V394.95H52.2V395.26H53.2V396.85H54.2V387.97H55.2V390.22H56.2V396.75H57.2V398.93H58.2V400.29H59.2V399.02H60.2V394.77H61.2V391.07H62.2V394.23H63.2V387.8H64.2V392.66H65.2V392.24H66.2V392.54H67.2V385.47H68.2V388H69.2V387.15H70.2V386.33H71.2V387.54H72.2V384.48H73.2V381.24H74.2V382.49H75.2V371.27H76.2V376.93H77.2V376.63H78.2V367.96H79.2V372.78H80.2V363.76H81.2V367.36H82.2V365.17H83.2V365.03H84.2V362.16H85.2V360.9H86.2V358.92H87.2V344.98H88.2V351.89H89.2V341.15H90.2V346.57H91.2V335.04H92.2V334.51H93.2V334.93H94.2V333.14H95.2V333.57H96.2V329.37H97.2V332.72H98.2V327.43H99.2V320.52H100.2V323.48H101.2V313.09H102.2V310.45H103.2V318.7H104.2V324.62H105.2V328.56H106.2V332.69H107.2V327.4H108.2V339.47H109.2V345.48H110.2V348.39H111.2V342.77H112.2V340.61H113.2V354.54H114.2V358.96H115.2V362.88H116.2V362.92H117.2V368.91H118.2V367.74H119.2V370.06H120.2V371.11H121.2V376.37H122.2V377.91H123.2V378.38H124.2V375.15H125.2V381.06H126.2V380.09H127.2V383.19H128.2V385.23H129.2V386.36H130.2V381.05H131.2V382.25H132.2V387.42H133.2V384.17H134.2V384.68H135.2V380.09H136.2V379.23H137.2V394.1H138.2V387.58H139.2V392.58H140.2V400.8H141.2V399.03H142.2V403.17H143.2V404.7H144.2V406.44H145.2V398.32H146.2V408.52H147.2V410.25H148.2V403.48H149.2V406.01H150.2V410.54H151.2V407.8H152.2V413.94H153.2V413.25H154.2V413.21H155.2V412.39H156.2V414.24H157.2V414.94H158.2V413.85H159.2V409.48H160.2V409.59H161.2V412.6H162.2V415.04H163.2V416.28H164.2V411.84H165.2V415.1H166.2V413.76H167.2V417.62H168.2V417.25H169.2V413.87H170.2V414.7H171.2V414.7H172.2V416.68H173.2V417.79H174.2V417.69H175.2V416.98H176.2V419.63H177.2V419.35H178.2V420.69H179.2V419.36H180.2V422.04H181.2V420.3H182.2V419.28H183.2V422.45H184.2V421.16H185.2V421.14H186.2V420.49H187.2V421.66H188.2V422.62H189.2V422.25H190.2V420.24H191.2V420.48H192.2V422.9H193.2V422.97H194.2V422.98H195.2V423.06H196.2V422.21H197.2V422.93H198.2V420.75H199.2V421.57H200.2V422.98H201.2V421.98H202.2V422.6H203.2V422.15H204.2V422.85H205.2V422.96H206.2V422.94H207.2V422.52H208.2V421.49H209.2V422.04H210.2V423.17H211.2V421.53H212.2V420.94H213.2V421.33H214.2V421.29H215.2V423.24H216.2V422.38H217.2V423.21H218.2V421.44H219.2V423.08H220.2V421.65H221.2V422.95H222.2V421.73H223.2V422.84H224.2V423.29H225.2V422.68H226.2V422.88H227.2V421.07H228.2V422.93H229.2V422.42H230.2V422.3H231.2V420.96H232.2V423.31H233.2V422.18H234.2V422.46H235.2V421.78H236.2V420.97H237.2V422.98H238.2V421.94H239.2V422.47H240.2V422.39H241.2V423.42H242.2V421.61H243.2V421.05H244.2V422.96H245.2V423.05H246V423.8Z" fill="#6e6e6e"/>
<path d="M49.5 423.8L49.5 421.86H50.3V419.46H51.1V419.08H51.9V422H52.7V419.6H53.5V419.39H54.3V420.9H55.1V420.09H55.9V421.64H56.7V419.74H57.5V421.87H58.3V420.01H59.1V420.76H59.9V421.78H60.7V421H61.5V421.75H62.3V421.07H63.1V419.16H63.9V421.61H64.7V420.73H65.5V419.98H66.3V419.61H67.1V421.51H67.9V420.71H68.7V421.8H69.5V421.27H70.3V421.87H71.1V420.66H71.9V421.04H72.7V420.79H73.5V419.83H74.3V421.86H75.1V419.99H75.9V421.3H76.7V421.85H77.5V420.9H78.3V419.46H79.1V419.77H79.9V417.98H80.7V415.53H81.5V413.99H82.3V414.3H83.1V411.66H83.9V413.47H84.7V410.99H85.5V409.94H86.3V408.52H87.1V408.82H87.9V410.74H88.7V409.83H89.5V410.17H90.3V410.71H91.1V409.94H91.9V410.74H92.7V410.43H93.5V408.74H94.3V408.12H95.1V407.34H95.9V406.24H96.7V409.71H97.5V408.12H98.3V406.18H99.1V403.9H99.9V403.72H100.7V400.81H101.5V395.58H102.3V392.08H103.1V391.2H103.9V396.11H104.7V392.99H105.5V395.74H106.3V394.34H107.1V391.93H107.9V389.82H108.7V386.52H109.5V383.24H110.3V383.9H111.1V383.33H111.9V380.33H112.7V375.75H113.5V376.41H114.3V370.6H115.1V370.41H115.9V370.5H116.7V368.84H117.5V363.37H118.3V363.63H119.1V358.73H119.9V356.44H120.7V353.38H121.5V353.11H122.3V347.29H123.1V341.12H123.9V338.78H124.7V333.92H125.5V327.68H126.3V326.67H127.1V321.45H127.9V314.14H128.7V312.32H129.5V299.48H130.3V300.39H131.1V296.92H131.9V288.19H132.7V280.83H133.5V284.77H134.3V268.5H135.1V270H135.9V273.32H136.7V290.84H137.5V283.82H138.3V282.88H139.1V282.84H139.9V281.41H140.7V290.88H141.5V282.12H142.3V287.17H143.1V288.09H143.9V298.14H144.7V299.41H145.5V305.5H146.3V312.32H147.1V316.76H147.9V317.29H148.7V310H149.5V317.64H150.3V325.17H151.1V321.78H151.9V327H152.7V332.85H153.5V336.11H154.3V342.35H155.1V346.05H155.9V348.16H156.7V350.38H157.5V353.9H158.3V357.05H159.1V355.3H159.9V369.85H160.7V364.17H161.5V377.85H162.3V377.21H163.1V373.47H163.9V377.65H164.7V378.97H165.5V376.8H166.3V381.56H167.1V382.35H167.9V389.84H168.7V388.55H169.5V395.89H170.3V401.62H171.1V404.25H171.9V405.71H172.7V407.65H173.5V406.69H174.3V408.07H175.1V411.06H175.9V411.92H176.7V410.13H177.5V413.85H178.3V416.45H179.1V415.79H179.9V418.52H180.7V419.59H181.5V419.24H182.3V419.15H183.1V420.75H183.9V419.98H184.7V419.34H185.5V419.84H186.3V419.76H187.1V421.58H187.9V420.82H188.7V421.23H189.5V421.53H190.3V421.93H191.1V420.11H191.9V420.63H192.7V421.68H193.5V421.4H194.3V420.6H195.1V421.15H195.9V420.15H196.7V420.07H197.5V419.8H198.3V420.6H199.1V420.27H199.9V420.87H200.7V421.92H201.5V420.08H202.3V420.96H203.1V421.66H203.9V421.05H204.7V420.91H205.5V421.44H206.3V419.79H207.1V421.87H207.9V421.25H208.7V421.53H209.5V421.58H210.3V420H211.1V419.93H211.9V420.2H212.7V420.89H213.5V421.85H214.3V421.78H215.1V420.73H215.9V421.13H216.7V421.39H217.5V420.57H218.3V421.93H219.1V421.86H219.9V421.37H220.7V421.77H221.5V421.54H222.3V421.21H223.1V420.58H223.9V420.49H224.7V420.4H225.5V420H226.3V421.83H227.1V420.55H227.9V419.93H228.7V420.59H229.5V420.13H230.3V420.86H231.1V420.63H231.9V420.3H232.7V420.92H233.5V420.81H234.3V420.69H235.1V421.58H235.9V420.6H236.7V421.04H237.5V421.73H238.3V421.91H239.1V420.75H239.9V420.05H240.7V421.89H241.5V421.01H242.3V420.45H243.1V420.26H243.9V420.5H244.7V420.65H245.5V420.3H246V423.8Z" fill="none" stroke="#000" stroke-width="1.55"/>
<rect x="48.2" y="323" width="1.8" height="101" fill="#222"/>
<line x1="48.6" y1="251.1" x2="247.2" y2="251.1" stroke="#8a8a8a" stroke-width="1.2"/>
<line x1="246.6" y1="250.5" x2="246.6" y2="424.3" stroke="#8a8a8a" stroke-width="1.2"/>
<line x1="48.1" y1="423.8" x2="247.2" y2="423.8" stroke="#888" stroke-width="1"/>
<line x1="48.6" y1="250.5" x2="48.6" y2="424.3" stroke="#555" stroke-width="1"/>
<path d="M48.1 423.8h-2M48.1 418.04h-1.2M48.1 412.29h-1.2M48.1 406.53h-1.2M48.1 400.77h-1.2M48.1 395.02h-2M48.1 389.26h-1.2M48.1 383.5h-1.2M48.1 377.75h-1.2M48.1 371.99h-1.2M48.1 366.23h-2M48.1 360.48h-1.2M48.1 354.72h-1.2M48.1 348.96h-1.2M48.1 343.21h-1.2M48.1 337.45h-2M48.1 331.69h-1.2M48.1 325.94h-1.2M48.1 320.18h-1.2M48.1 314.42h-1.2M48.1 308.67h-2M48.1 302.91h-1.2M48.1 297.15h-1.2M48.1 291.4h-1.2M48.1 285.64h-1.2M48.1 279.88h-2M48.1 274.13h-1.2M48.1 268.37h-1.2M48.1 262.61h-1.2M48.1 256.86h-1.2M48.1 251.1h-2" stroke="#666" stroke-width="0.8" fill="none"/>
<path d="M48.6 424.3v2M63.5 424.3v1.2M72.22 424.3v1.2M78.4 424.3v1.2M83.2 424.3v1.2M87.12 424.3v1.2M90.43 424.3v1.2M93.3 424.3v1.2M95.84 424.3v1.2M98.1 424.3v2M113 424.3v1.2M121.72 424.3v1.2M127.9 424.3v1.2M132.7 424.3v1.2M136.62 424.3v1.2M139.93 424.3v1.2M142.8 424.3v1.2M145.34 424.3v1.2M147.6 424.3v2M162.5 424.3v1.2M171.22 424.3v1.2M177.4 424.3v1.2M182.2 424.3v1.2M186.12 424.3v1.2M189.43 424.3v1.2M192.3 424.3v1.2M194.84 424.3v1.2M197.1 424.3v2M212 424.3v1.2M220.72 424.3v1.2M226.9 424.3v1.2M231.7 424.3v1.2M235.62 424.3v1.2M238.93 424.3v1.2M241.8 424.3v1.2M244.34 424.3v1.2M246.6 424.3v2" stroke="#666" stroke-width="0.8" fill="none"/>
<text x="0" y="259.6" font-size="20.5" font-weight="bold">C</text>
<text transform="translate(40.2 251.5) rotate(-90)" text-anchor="middle" font-size="10.5">60</text>
<text transform="translate(40.2 279.5) rotate(-90)" text-anchor="middle" font-size="10.5">50</text>
<text transform="translate(40.2 307.5) rotate(-90)" text-anchor="middle" font-size="10.5">40</text>
<text transform="translate(40.2 336) rotate(-90)" text-anchor="middle" font-size="10.5">30</text>
<text transform="translate(40.2 364.5) rotate(-90)" text-anchor="middle" font-size="10.5">20</text>
<text transform="translate(40.2 392.5) rotate(-90)" text-anchor="middle" font-size="10.5">10</text>
<text transform="translate(40.2 423) rotate(-90)" text-anchor="middle" font-size="10.5">0</text>
<text x="41.5" y="437.9" font-size="10.5">10<tspan font-size="6.4" dy="-3.0">0</tspan></text>
<text x="90" y="437.9" font-size="10.5">10<tspan font-size="6.4" dy="-3.0">1</tspan></text>
<text x="139" y="437.9" font-size="10.5">10<tspan font-size="6.4" dy="-3.0">2</tspan></text>
<text x="189.5" y="437.9" font-size="10.5">10<tspan font-size="6.4" dy="-3.0">3</tspan></text>
<text x="239.5" y="437.9" font-size="10.5">10<tspan font-size="6.4" dy="-3.0">4</tspan></text>
<text x="129.5" y="460.8" font-size="16">FL1-H</text>
<text x="51.2" y="265.8" font-size="16.3">Phosphatidylserine</text>
<text transform="translate(14.6 344.3) rotate(-90)" text-anchor="middle" font-size="16">Cell Counts</text>
<path d="M308.3 423.2L308.3 379.23H309.3V375.39H310.3V369.68H311.3V361.48H312.3V361.45H313.3V355.71H314.3V350.53H315.3V342.28H316.3V347.15H317.3V338.53H318.3V338.55H319.3V343.58H320.3V339.19H321.3V339.72H322.3V339.52H323.3V330.01H324.3V341.31H325.3V341.16H326.3V326.72H327.3V333.57H328.3V333.9H329.3V330.69H330.3V330.07H331.3V321.49H332.3V331.01H333.3V330.99H334.3V328.82H335.3V330.07H336.3V327.81H337.3V328.74H338.3V331.43H339.3V331.65H340.3V325.99H341.3V324.99H342.3V333.51H343.3V329.82H344.3V329.53H345.3V333.54H346.3V341.12H347.3V334.04H348.3V338.34H349.3V351.23H350.3V347.62H351.3V357.48H352.3V361.02H353.3V360.46H354.3V362.72H355.3V364.38H356.3V364.11H357.3V364.89H358.3V365.54H359.3V367.33H360.3V369.09H361.3V373.02H362.3V378.22H363.3V379.92H364.3V378.26H365.3V379.86H366.3V379.93H367.3V384.62H368.3V386.8H369.3V384.21H370.3V389.42H371.3V391.2H372.3V397.27H373.3V398.36H374.3V395.63H375.3V398.84H376.3V396.8H377.3V403.56H378.3V402.32H379.3V397.99H380.3V403.02H381.3V395.29H382.3V399.43H383.3V408.37H384.3V409.3H385.3V387.9H386.3V411.07H387.3V411.44H388.3V411.4H389.3V408.16H390.3V407.67H391.3V413.39H392.3V414.36H393.3V412.59H394.3V417.3H395.3V417.1H396.3V415.88H397.3V416.24H398.3V419.51H399.3V419.65H400.3V419.86H401.3V417.63H402.3V418.21H403.3V417.13H404.3V418.68H405.3V420.92H406.3V419.55H407.3V419.12H408.3V421.58H409.3V422.35H410.3V422.2H411.3V422.69H412.3V423.03H412.8V423.2Z" fill="#686868"/>
<path d="M307.6 423.2L307.6 394.72H307.95V386.74H308.3V380.11H308.65V365.06H309V367.56H309.35V360.02H309.7V365.81H310.05V358.21H310.4V351.61H310.75V353.81H311.1V346.01H311.45V344.51H311.8V348.59H312.15V350.75H312.5V337.88H312.85V343.44H313.2V342.18H313.55V331.78H313.9V329.57H314.25V328.93H314.6V326.63H314.95V336.02H315.3V337.33H315.65V336.74H316V320.79H316.35V336.89H316.7V335.81H317.05V339.16H317.4V338.57H317.75V339.02H318.1V329.57H318.45V335.19H318.8V330.85H319.15V313.43H319.5V334.71H319.85V317.33H320.2V319.65H320.55V324.23H320.9V324.02H321.25V318.63H321.6V322.25H321.95V329.56H322.3V326.39H322.65V327.27H323V323.09H323.35V310.64H323.7V320.85H324.05V326.92H324.4V318.67H324.75V311.93H325.1V318.02H325.45V312.85H325.8V323.01H326.15V322.8H326.5V311.89H326.85V319.76H327.2V313.23H327.55V309.61H327.9V309.73H328.25V309.04H328.6V308.25H328.95V297.84H329.3V301.33H329.65V298.76H330V304.51H330.35V299.65H330.7V301.16H331.05V304.43H331.4V305.99H331.75V306.77H332.1V310.48H332.45V309.39H332.8V306.31H333.15V312.37H333.5V306.33H333.85V310.34H334.2V310.08H334.55V308.57H334.9V311.23H335.25V318.39H335.6V318.16H335.95V322.86H336.3V323.83H336.65V310.2H337V316.84H337.35V309.76H337.7V312.1H338.05V318.63H338.4V307.6H338.75V307.54H339.1V313.5H339.45V317.71H339.8V313.41H340.15V316.47H340.5V314.99H340.85V319.97H341.2V312.71H341.55V310.33H341.9V321.82H342.25V315.38H342.6V319.18H342.95V321.38H343.3V315.95H343.65V324.62H344V318.37H344.35V332.11H344.7V317.02H345.05V331.66H345.4V336.02H345.75V319.82H346.1V323.23H346.45V324.51H346.8V322.75H347.15V332.21H347.5V338.87H347.85V334.33H348.2V319.78H348.55V319.6H348.9V337.31H349.25V332.78H349.6V332.94H349.95V323.69H350.3V343.99H350.65V327.28H351V339.99H351.35V334.78H351.7V343.72H352.05V345.16H352.4V331.15H352.75V338.88H353.1V331.59H353.45V334.41H353.8V337.26H354.15V349.25H354.5V341.73H354.85V336.31H355.2V344.81H355.55V352.2H355.9V351.16H356.25V340.14H356.6V340.51H356.95V352.75H357.3V352.37H357.65V345.91H358V350.32H358.35V357.4H358.7V341.59H359.05V349.72H359.4V356.07H359.75V364.44H360.1V354.71H360.45V350.62H360.8V363.35H361.15V365.91H361.5V354.36H361.85V351.74H362.2V362.8H362.55V361.98H362.9V359.5H363.25V361.96H363.6V369.97H363.95V367.61H364.3V369.57H364.65V370.33H365V373.35H365.35V366.98H365.7V371.52H366.05V357.7H366.4V371.05H366.75V358.81H367.1V363.69H367.45V375.32H367.8V378.32H368.15V372.6H368.5V375.44H368.85V375.92H369.2V382.34H369.55V378.06H369.9V376.01H370.25V381.08H370.6V384.59H370.95V376.48H371.3V386H371.65V377.21H372V382.4H372.35V393.13H372.7V387.9H373.05V392.94H373.4V385.84H373.75V391.56H374.1V396.55H374.45V387.9H374.8V390.89H375.15V394.1H375.5V395.68H375.85V400.99H376.2V391.89H376.55V399.67H376.9V397.46H377.25V398.23H377.6V398.82H377.95V405.62H378.3V393.29H378.65V399.59H379V401.38H379.35V393.52H379.7V393.27H380.05V395.61H380.4V391.85H380.75V402.64H381.1V407.79H381.45V402.89H381.8V397.41H382.15V393.41H382.5V395.15H382.85V397.94H383.2V399.05H383.55V398.23H383.9V400.55H384.25V411.72H384.6V402.04H384.95V407.4H385.3V411.28H385.65V402.59H386V399.74H386.35V408.89H386.7V403.95H387.05V405.29H387.4V405.35H387.75V403.99H388.1V406.76H388.45V413.36H388.8V408.55H389.15V411.29H389.5V410.92H389.85V408.91H390.2V413.5H390.55V409.91H390.9V407.66H391.25V414.9H391.6V409.03H391.95V410.62H392.3V413.26H392.65V411.17H393V416.11H393.35V415.87H393.7V411.3H394.05V413.93H394.4V416.71H394.75V417.18H395.1V416.04H395.45V416.02H395.8V414.76H396.15V418.1H396.5V417H396.85V417.63H397.2V417.27H397.55V416.08H397.9V418.63H398.25V416.41H398.6V416.73H398.95V418.17H399.3V418.63H399.65V416.68H400V416.35H400.35V417.93H400.7V418.57H401.05V417.28H401.4V416.92H401.75V417.89H402.1V417.73H402.45V418.68H402.8V418.56H403.15V418.35H403.5V416.49H403.85V419.02H404.2V418.84H404.55V417.62H404.9V419.04H405.25V418.99H405.6V415.89H405.95V419.27H406.3V416.96H406.65V420.68H407V417.26H407.35V415.67H407.7V417.89H408.05V420.43H408.4V421.89H408.75V420.2H409.1V419.62H409.45V421.66H409.8V420.29H410.15V420.38H410.5V422.09H410.85V421.01H411.2V423.2Z" fill="none" stroke="#000" stroke-width="2"/>
<line x1="305" y1="246.8" x2="512.9" y2="246.8" stroke="#000" stroke-width="1.5"/>
<line x1="511.9" y1="246.05" x2="511.9" y2="423.9" stroke="#000" stroke-width="2"/>
<line x1="304.2" y1="423.2" x2="512.9" y2="423.2" stroke="#000" stroke-width="1.4"/>
<line x1="305" y1="246.05" x2="305" y2="423.9" stroke="#000" stroke-width="1.6"/>
<path d="M304.2 423.2h-4M304.2 416.14h-2M304.2 409.09h-2M304.2 402.03h-2M304.2 394.98h-2M304.2 387.92h-4M304.2 380.86h-2M304.2 373.81h-2M304.2 366.75h-2M304.2 359.7h-2M304.2 352.64h-4M304.2 345.58h-2M304.2 338.53h-2M304.2 331.47h-2M304.2 324.42h-2M304.2 317.36h-4M304.2 310.3h-2M304.2 303.25h-2M304.2 296.19h-2M304.2 289.14h-2M304.2 282.08h-4M304.2 275.02h-2M304.2 267.97h-2M304.2 260.91h-2M304.2 253.86h-2M304.2 246.8h-4" stroke="#000" stroke-width="1.2" fill="none"/>
<path d="M305 423.9v4M320.57 423.9v2M329.68 423.9v2M336.14 423.9v2M341.15 423.9v2M345.25 423.9v2M348.71 423.9v2M351.71 423.9v2M354.36 423.9v2M356.73 423.9v4M372.3 423.9v2M381.4 423.9v2M387.87 423.9v2M392.88 423.9v2M396.97 423.9v2M400.44 423.9v2M403.44 423.9v2M406.08 423.9v2M408.45 423.9v4M424.02 423.9v2M433.13 423.9v2M439.59 423.9v2M444.6 423.9v2M448.7 423.9v2M452.16 423.9v2M455.16 423.9v2M457.81 423.9v2M460.17 423.9v4M475.75 423.9v2M484.85 423.9v2M491.32 423.9v2M496.33 423.9v2M500.42 423.9v2M503.89 423.9v2M506.89 423.9v2M509.53 423.9v2M511.9 423.9v4" stroke="#000" stroke-width="1.2" fill="none"/>
<text x="260" y="259.3" font-size="20.5" font-weight="bold">D</text>
<text transform="translate(292.5 246.8) rotate(-90)" text-anchor="middle" font-size="10.5">50</text>
<text transform="translate(292.5 283.4) rotate(-90)" text-anchor="middle" font-size="10.5">40</text>
<text transform="translate(292.5 318) rotate(-90)" text-anchor="middle" font-size="10.5">30</text>
<text transform="translate(292.5 353) rotate(-90)" text-anchor="middle" font-size="10.5">20</text>
<text transform="translate(292.5 388.8) rotate(-90)" text-anchor="middle" font-size="10.5">10</text>
<text transform="translate(292.5 422) rotate(-90)" text-anchor="middle" font-size="10.5">0</text>
<text x="301.5" y="440.3" font-size="10.5">10<tspan font-size="6.4" dy="-3.0">0</tspan></text>
<text x="350" y="440.3" font-size="10.5">10<tspan font-size="6.4" dy="-3.0">1</tspan></text>
<text x="398.5" y="440.3" font-size="10.5">10<tspan font-size="6.4" dy="-3.0">2</tspan></text>
<text x="449" y="440.3" font-size="10.5">10<tspan font-size="6.4" dy="-3.0">3</tspan></text>
<text x="498.5" y="440.3" font-size="10.5">10<tspan font-size="6.4" dy="-3.0">4</tspan></text>
<text x="389.5" y="462.5" font-size="16">FL1-H</text>
<text x="312.5" y="265.8" font-size="16">AnxA1</text>
<path d="M53.8 659.1L53.8 587.13H54.8V572H55.8V589.24H56.8V568H57.8V561H58.8V577.58H59.8V586.19H60.8V588.56H61.8V577.7H62.8V566H63.8V580.16H64.8V588.29H65.8V587.28H66.8V598.1H67.8V605.67H68.8V609.03H69.8V603.68H70.8V614.53H71.8V606.74H72.8V606.91H73.8V617.36H74.8V602.48H75.8V618.46H76.8V599.44H77.8V601.44H78.8V618.71H79.8V607.26H80.8V608.43H81.8V624.46H82.8V612.78H83.8V626.2H84.8V608.58H85.8V613.93H86.8V604.53H87.8V630.39H88.8V624.54H89.8V617.24H90.8V619.31H91.8V630.24H92.8V615.86H93.8V617.44H94.8V629.5H95.8V632.6H96.8V623.14H97.8V629.71H98.8V627.21H99.8V631.9H100.8V633.58H101.8V637.14H102.8V636.87H103.8V635.56H104.8V634.38H105.8V640.53H106.8V640H107.8V642.82H108.8V640.44H109.8V641.77H110.8V644.16H111.8V645.58H112.8V646.27H113.8V646.67H114.8V638.76H115.8V638.8H116.8V640.3H117.8V646.26H118.8V641.49H119.8V646.16H120.8V639.53H121.8V641.91H122.8V640.58H123.8V641.22H124.8V642.6H125.8V636.7H126.8V634.1H127.8V643.2H128.8V640.14H129.8V635.31H130.8V636.9H131.8V641.07H132.8V641.04H133.8V635.85H134.8V643.58H135.8V644.53H136.8V640.72H137.8V644.85H138.8V639.97H139.8V645.41H140.8V641.55H141.8V646.07H142.8V643.64H143.8V645.15H144.8V645.68H145.8V648.41H146.8V648.88H147.8V649.55H148.8V649.4H149.8V648.05H150.8V650.63H151.8V650.76H152.8V649.59H153.8V651.99H154.8V651.11H155.8V651.66H156.8V649.18H157.8V652.18H158.8V647.32H159.8V649.79H160.8V652.62H161.8V653.84H162.8V654H163.8V652.69H164.8V652.92H165.8V653.14H166.8V655.17H167.8V653.84H168.8V652.79H169.8V653.73H170.8V654.12H171.8V653.73H172.8V655.07H173.8V653.51H174.8V653.34H175.8V656.61H176.8V656.88H177.8V657.57H178.8V659.1Z" fill="#6e6e6e" stroke="#222" stroke-width="0.9"/>
<path d="M54.4 659.1L54.4 644.83H55.3V641.12H56.2V642.22H57.1V640.28H58V642.16H58.9V640.24H59.8V640.85H60.7V632.37H61.6V634.39H62.5V628.58H63.4V629.68H64.3V631.79H65.2V624.67H66.1V626.94H67V636.08H67.9V634.5H68.8V627.84H69.7V636.32H70.6V641.55H71.5V621.03H72.4V637.07H73.3V632.41H74.2V624.69H75.1V619.69H76V642.35H76.9V624.7H77.8V617.01H78.7V617.3H79.6V634.17H80.5V627.71H81.4V630.58H82.3V628.16H83.2V625.39H84.1V633.98H85V625.11H85.9V629.25H86.8V634.65H87.7V628.05H88.6V631.26H89.5V624.22H90.4V625.84H91.3V616.29H92.2V619.34H93.1V619H94V614.11H94.9V614.86H95.8V610.89H96.7V614.25H97.6V620.83H98.5V615.73H99.4V614.96H100.3V611.26H101.2V611.39H102.1V617.03H103V612.71H103.9V611.08H104.8V605.2H105.7V610H106.6V605.61H107.5V609.87H108.4V617.21H109.3V614.45H110.2V611.47H111.1V610.5H112V610.29H112.9V607.38H113.8V603.61H114.7V604.72H115.6V615.34H116.5V614.76H117.4V614.32H118.3V623.77H119.2V622.08H120.1V617.8H121V621.31H121.9V620.42H122.8V624.65H123.7V620.15H124.6V616.65H125.5V615.05H126.4V619.84H127.3V611.41H128.2V613.43H129.1V614.16H130V604.85H130.9V598.71H131.8V609.84H132.7V597.33H133.6V590.71H134.5V593.23H135.4V599H136.3V609.81H137.2V607.02H138.1V595.09H139V584.05H139.9V583.42H140.8V558H141.7V556H142.6V584.56H143.5V589.13H144.4V576.38H145.3V590.62H146.2V591.66H147.1V590.57H148V587.4H148.9V596.49H149.8V588.29H150.7V598.29H151.6V602.92H152.5V613.29H153.4V614.28H154.3V611.2H155.2V615.45H156.1V614.95H157V623.87H157.9V626.09H158.8V623.11H159.7V626.42H160.6V626.39H161.5V623.08H162.4V628.24H163.3V626.99H164.2V631.2H165.1V626.32H166V615.86H166.9V619.26H167.8V614.73H168.7V627.91H169.6V628.46H170.5V630.05H171.4V630.29H172.3V631.19H173.2V639.43H174.1V640.4H175V635.23H175.9V638.57H176.8V637.95H177.7V644.57H178.6V647.06H179.5V644.05H180.4V646.2H181.3V645.45H182.2V643.08H183.1V647.34H184V647.27H184.9V648.36H185.8V651.32H186.7V653.23H187.6V654.29H188.5V656.05H189.4V658.79H190.3V658.2H191.2V658.11H192.1V657.87H193V656H193.9V655.35H194.8V655.7H195.7V657.66H196.5V659.1Z" fill="none" stroke="#000" stroke-width="1.9"/>
<line x1="52.6" y1="487.4" x2="249.85" y2="487.4" stroke="#333" stroke-width="1.3"/>
<line x1="249.2" y1="486.75" x2="249.2" y2="659.65" stroke="#444" stroke-width="1.3"/>
<line x1="51.6" y1="659.1" x2="249.85" y2="659.1" stroke="#000" stroke-width="1.1"/>
<line x1="52.6" y1="486.75" x2="52.6" y2="659.65" stroke="#000" stroke-width="2"/>
<path d="M51.6 659.1h-2.5M51.6 653.38h-1.6M51.6 647.65h-1.6M51.6 641.93h-1.6M51.6 636.21h-1.6M51.6 630.48h-2.5M51.6 624.76h-1.6M51.6 619.04h-1.6M51.6 613.31h-1.6M51.6 607.59h-1.6M51.6 601.87h-2.5M51.6 596.14h-1.6M51.6 590.42h-1.6M51.6 584.7h-1.6M51.6 578.97h-1.6M51.6 573.25h-2.5M51.6 567.53h-1.6M51.6 561.8h-1.6M51.6 556.08h-1.6M51.6 550.36h-1.6M51.6 544.63h-2.5M51.6 538.91h-1.6M51.6 533.19h-1.6M51.6 527.46h-1.6M51.6 521.74h-1.6M51.6 516.02h-2.5M51.6 510.29h-1.6M51.6 504.57h-1.6M51.6 498.85h-1.6M51.6 493.12h-1.6M51.6 487.4h-2.5" stroke="#000" stroke-width="1" fill="none"/>
<path d="M52.6 659.6v3M67.4 659.6v1.6M76.05 659.6v1.6M82.19 659.6v1.6M86.95 659.6v1.6M90.85 659.6v1.6M94.14 659.6v1.6M96.99 659.6v1.6M99.5 659.6v1.6M101.75 659.6v3M116.55 659.6v1.6M125.2 659.6v1.6M131.34 659.6v1.6M136.1 659.6v1.6M140 659.6v1.6M143.29 659.6v1.6M146.14 659.6v1.6M148.65 659.6v1.6M150.9 659.6v3M165.7 659.6v1.6M174.35 659.6v1.6M180.49 659.6v1.6M185.25 659.6v1.6M189.15 659.6v1.6M192.44 659.6v1.6M195.29 659.6v1.6M197.8 659.6v1.6M200.05 659.6v3M214.85 659.6v1.6M223.5 659.6v1.6M229.64 659.6v1.6M234.4 659.6v1.6M238.3 659.6v1.6M241.59 659.6v1.6M244.44 659.6v1.6M246.95 659.6v1.6M249.2 659.6v3" stroke="#000" stroke-width="1" fill="none"/>
<text x="0" y="496" font-size="20.5" font-weight="bold">E</text>
<text transform="translate(40.2 486.5) rotate(-90)" text-anchor="middle" font-size="10.5">60</text>
<text transform="translate(40.2 514) rotate(-90)" text-anchor="middle" font-size="10.5">50</text>
<text transform="translate(40.2 540.5) rotate(-90)" text-anchor="middle" font-size="10.5">40</text>
<text transform="translate(40.2 568.5) rotate(-90)" text-anchor="middle" font-size="10.5">30</text>
<text transform="translate(40.2 597.7) rotate(-90)" text-anchor="middle" font-size="10.5">20</text>
<text transform="translate(40.2 631.5) rotate(-90)" text-anchor="middle" font-size="10.5">10</text>
<text transform="translate(40.2 651.2) rotate(-90)" text-anchor="middle" font-size="10.5">0</text>
<text x="46.5" y="677" font-size="10.5">10<tspan font-size="6.4" dy="-3.0">0</tspan></text>
<text x="90.5" y="677" font-size="10.5">10<tspan font-size="6.4" dy="-3.0">1</tspan></text>
<text x="145" y="677" font-size="10.5">10<tspan font-size="6.4" dy="-3.0">2</tspan></text>
<text x="191.5" y="677" font-size="10.5">10<tspan font-size="6.4" dy="-3.0">3</tspan></text>
<text x="245.4" y="677" font-size="10.5">10<tspan font-size="6.4" dy="-3.0">4</tspan></text>
<text x="116.6" y="705.8" font-size="16">FL1-H</text>
<text x="58.8" y="502.3" font-size="15.1">Control</text>
<text x="58.8" y="520.1" font-size="15.1">Microparticles</text>
<text x="71.2" y="552.6" font-size="16">AnxA1</text>
<text transform="translate(12.4 580.6) rotate(-90)" text-anchor="middle" font-size="16">Cell Counts</text>
<path d="M313.5 664.1L313.5 591.13H314.5V590.18H315.5V592.51H316.5V589.41H317.5V597.25H318.5V595.39H319.5V590.25H320.5V597.8H321.5V590.01H322.5V593.08H323.5V595.98H324.5V603.09H325.5V609.06H326.5V614.42H327.5V609.99H328.5V618.29H329.5V616.9H330.5V618.39H331.5V624.1H332.5V623.35H333.5V622.67H334.5V621.1H335.5V624.7H336.5V622.11H337.5V623.33H338.5V621.08H339.5V620.35H340.5V621.09H341.5V625.26H342.5V623.69H343.5V626.89H344.5V625.78H345.5V629.54H346.5V627.79H347.5V628.4H348.5V630.62H349.5V631.12H350.5V631.7H351.5V634.01H352.5V637.77H353.5V631.98H354.5V636.09H355.5V638.46H356.5V633H357.5V631.56H358.5V633.75H359.5V625.19H360.5V637.88H361.5V628.38H362.5V635.03H363.5V640.5H364.5V639.83H365.5V639.38H366.5V641.99H367.5V638.06H368.5V639.82H369.5V639.28H370.5V641.51H371.5V643.11H372.5V643.4H373.5V645.11H374.5V646.59H375.5V646.91H376.5V646.76H377.5V643.5H378.5V641.48H379.5V642.96H380.5V643.5H381.5V651.69H382.5V648.25H383.5V650.9H384.5V647.65H385.5V647.5H386.5V647.3H387.5V645.02H388.5V648.95H389.5V645.17H390.5V645.84H391.5V648.72H392.5V642.97H393.5V650.7H394.5V647.49H395.5V647.06H396.5V646.67H397.5V643.25H398.5V647.53H399.5V644.86H400.5V650.08H401.5V648.74H402.5V651.41H403.5V648.35H404.5V650.51H405.5V648.93H406.5V653.56H407.5V651.93H408.5V649.72H409.5V654.93H410.5V651.98H411.5V651.64H412.5V651.08H413.5V652.01H414.5V652.34H415.5V648.81H416.5V654.02H417.5V650.95H418.5V651.53H419.5V651.43H420.5V653.49H421.5V656.84H422.5V652.47H423.5V655.9H424.5V654.12H425.5V654.23H426.5V655.83H427.5V657.02H428.5V655.89H429.5V657.36H430.5V657.69H431.5V657.14H432.5V657.05H433.5V657.12H434.5V657.68H435.5V658.23H436.5V657.58H437.5V658.78H438.5V658.3H439.5V659.79H440.5V659.67H441.5V658.41H442.5V660.26H443.5V660.19H444.5V661.64H445.5V660.34H446.5V662.65H447.3V664.1Z" fill="#6e6e6e" stroke="#333" stroke-width="0.7"/>
<path d="M313.5 664.1L313.5 646.3H314.4V621.57H315.3V642.89H316.2V641.76H317.1V643.67H318V636.01H318.9V571H319.8V628.8H320.7V635.25H321.6V627.81H322.5V623.06H323.4V620.79H324.3V619.2H325.2V611.3H326.1V612.94H327V607.44H327.9V606.37H328.8V606.02H329.7V605.24H330.6V604.07H331.5V610.2H332.4V602.97H333.3V611.59H334.2V614.96H335.1V617.38H336V620.97H336.9V612.09H337.8V614.94H338.7V620.92H339.6V613.13H340.5V604.29H341.4V612.52H342.3V611.89H343.2V605.01H344.1V603.41H345V604.89H345.9V609.2H346.8V608.19H347.7V603.56H348.6V601.79H349.5V600.13H350.4V603.37H351.3V616.57H352.2V613.56H353.1V611.61H354V607.12H354.9V607.12H355.8V609.09H356.7V610.1H357.6V614.1H358.5V614.3H359.4V616.73H360.3V616.98H361.2V617.06H362.1V618.74H363V606H363.9V614.79H364.8V625.91H365.7V626.44H366.6V625.97H367.5V622.48H368.4V627.04H369.3V628H370.2V627.32H371.1V632.01H372V632.46H372.9V631.78H373.8V632.05H374.7V630.88H375.6V631.5H376.5V629.34H377.4V631.76H378.3V629.71H379.2V632.58H380.1V634.35H381V631.68H381.9V629.6H382.8V630.11H383.7V634.35H384.6V633.52H385.5V636.45H386.4V635.36H387.3V633.08H388.2V631.55H389.1V629.64H390V631.13H390.9V629.26H391.8V632.12H392.7V634.01H393.6V631.91H394.5V634.65H395.4V636.03H396.3V634.59H397.2V633.84H398.1V633.97H399V629H399.9V633.06H400.8V640.98H401.7V638.26H402.6V642.72H403.5V642.74H404.4V641.06H405.3V636.19H406.2V637.06H407.1V635.21H408V628.5H408.9V636.23H409.8V637.38H410.7V640.1H411.6V640.01H412.5V641.75H413.4V643.95H414.3V642.16H415.2V641.42H416.1V644.64H417V643.36H417.9V646.19H418.8V647.1H419.7V647.34H420.6V647.77H421.5V647.93H422.4V648.79H423.3V648.74H424.2V648.64H425.1V650.8H426V651.91H426.9V653.42H427.8V652.21H428.7V652.84H429.6V653.88H430.5V652.15H431.4V653.57H432.3V654.09H433.2V653.47H434.1V652.16H435V653.9H435.9V652.7H436.8V653.28H437.7V654.01H438.6V652.85H439.5V652.72H440.4V652.37H441.3V653.13H442.2V652.37H443.1V654.47H444V656.82H444.9V655.98H445.8V659.47H446.7V662.05H447.6V663.05H447.8V664.1Z" fill="none" stroke="#000" stroke-width="1.9"/>
<line x1="312.6" y1="489.5" x2="518.95" y2="489.5" stroke="#222" stroke-width="1.1"/>
<line x1="518.4" y1="488.95" x2="518.4" y2="664.65" stroke="#444" stroke-width="1.1"/>
<line x1="312.05" y1="664.1" x2="518.95" y2="664.1" stroke="#000" stroke-width="1.1"/>
<line x1="312.6" y1="488.95" x2="312.6" y2="664.65" stroke="#000" stroke-width="1.1"/>
<path d="M312.1 664.1h-3.5M312.1 658.28h-2M312.1 652.46h-2M312.1 646.64h-2M312.1 640.82h-2M312.1 635h-3.5M312.1 629.18h-2M312.1 623.36h-2M312.1 617.54h-2M312.1 611.72h-2M312.1 605.9h-3.5M312.1 600.08h-2M312.1 594.26h-2M312.1 588.44h-2M312.1 582.62h-2M312.1 576.8h-3.5M312.1 570.98h-2M312.1 565.16h-2M312.1 559.34h-2M312.1 553.52h-2M312.1 547.7h-3.5M312.1 541.88h-2M312.1 536.06h-2M312.1 530.24h-2M312.1 524.42h-2M312.1 518.6h-3.5M312.1 512.78h-2M312.1 506.96h-2M312.1 501.14h-2M312.1 495.32h-2M312.1 489.5h-3.5" stroke="#000" stroke-width="1" fill="none"/>
<path d="M312.6 664.6v3M328.09 664.6v1.6M337.15 664.6v1.6M343.58 664.6v1.6M348.56 664.6v1.6M352.64 664.6v1.6M356.08 664.6v1.6M359.06 664.6v1.6M361.7 664.6v1.6M364.05 664.6v3M379.54 664.6v1.6M388.6 664.6v1.6M395.03 664.6v1.6M400.01 664.6v1.6M404.09 664.6v1.6M407.53 664.6v1.6M410.51 664.6v1.6M413.15 664.6v1.6M415.5 664.6v3M430.99 664.6v1.6M440.05 664.6v1.6M446.48 664.6v1.6M451.46 664.6v1.6M455.54 664.6v1.6M458.98 664.6v1.6M461.96 664.6v1.6M464.6 664.6v1.6M466.95 664.6v3M482.44 664.6v1.6M491.5 664.6v1.6M497.93 664.6v1.6M502.91 664.6v1.6M506.99 664.6v1.6M510.43 664.6v1.6M513.41 664.6v1.6M516.05 664.6v1.6M518.4 664.6v3" stroke="#000" stroke-width="1" fill="none"/>
<text x="261" y="496.2" font-size="20.5" font-weight="bold">F</text>
<text transform="translate(298.3 492.7) rotate(-90)" text-anchor="middle" font-size="10.5">60</text>
<text transform="translate(298.3 519) rotate(-90)" text-anchor="middle" font-size="10.5">50</text>
<text transform="translate(298.3 547) rotate(-90)" text-anchor="middle" font-size="10.5">40</text>
<text transform="translate(298.3 576) rotate(-90)" text-anchor="middle" font-size="10.5">30</text>
<text transform="translate(298.3 605) rotate(-90)" text-anchor="middle" font-size="10.5">20</text>
<text transform="translate(298.3 636.5) rotate(-90)" text-anchor="middle" font-size="10.5">10</text>
<text transform="translate(298.3 661) rotate(-90)" text-anchor="middle" font-size="10.5">0</text>
<text x="303.8" y="682.3" font-size="10.5">10<tspan font-size="6.4" dy="-3.0">0</tspan></text>
<text x="352.5" y="682.3" font-size="10.5">10<tspan font-size="6.4" dy="-3.0">1</tspan></text>
<text x="402.3" y="682.3" font-size="10.5">10<tspan font-size="6.4" dy="-3.0">2</tspan></text>
<text x="449.2" y="682.3" font-size="10.5">10<tspan font-size="6.4" dy="-3.0">3</tspan></text>
<text x="505.4" y="682.3" font-size="10.5">10<tspan font-size="6.4" dy="-3.0">4</tspan></text>
<text x="376.6" y="712" font-size="16">FL1-H</text>
<text x="316.8" y="503.6" font-size="15.1">EDTA washed</text>
<text x="316.8" y="521.9" font-size="15.1">Microparticles</text>
<text x="322.3" y="552.6" font-size="16">AnxA1</text>
</svg>
</body></html>
